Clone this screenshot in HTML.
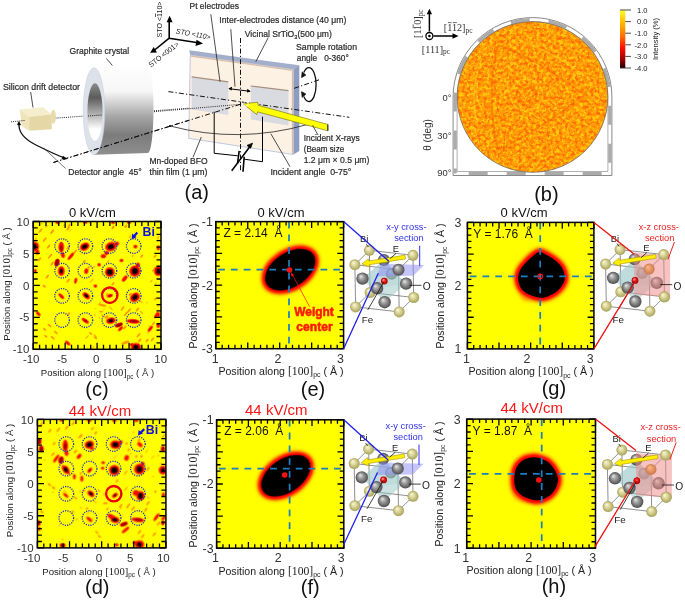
<!DOCTYPE html>
<html><head><meta charset="utf-8"><style>
html,body{margin:0;padding:0;background:#fff;}
svg{display:block;will-change:transform;}
</style></head><body>
<svg width="685" height="600" viewBox="0 0 685 600" font-family='"Liberation Sans", sans-serif'>
<rect width="685" height="600" fill="#fff"/>

<defs>
 <linearGradient id="cylg" x1="0" y1="0" x2="0" y2="1">
  <stop offset="0" stop-color="#ffffff"/><stop offset="0.3" stop-color="#f6f6f6"/>
  <stop offset="0.58" stop-color="#a6a6a6"/><stop offset="0.78" stop-color="#7c7c7c"/>
  <stop offset="1" stop-color="#8e8e8e"/>
 </linearGradient>
 <linearGradient id="holeg" x1="0" y1="0" x2="0" y2="1">
  <stop offset="0" stop-color="#8a8a8a"/><stop offset="0.25" stop-color="#5c5c5c"/>
  <stop offset="0.55" stop-color="#b5b5b5"/><stop offset="0.8" stop-color="#ffffff"/><stop offset="1" stop-color="#ffffff"/>
 </linearGradient>
 <linearGradient id="cbar" x1="0" y1="0" x2="0" y2="1">
  <stop offset="0" stop-color="#ffff30"/><stop offset="0.2" stop-color="#ffc000"/>
  <stop offset="0.45" stop-color="#ff7000"/><stop offset="0.65" stop-color="#ff1000"/>
  <stop offset="0.85" stop-color="#a00000"/><stop offset="1" stop-color="#200000"/>
 </linearGradient>
 <filter id="tex1" x="0" y="0" width="100%" height="100%" color-interpolation-filters="sRGB">
  <feTurbulence type="fractalNoise" baseFrequency="0.3" numOctaves="2" seed="3" result="n"/>
  <feColorMatrix in="n" type="matrix" values="0 0 0 0 1  0 0 0 0 0.8  0 0 0 0 0.05  0 0 0 -3.6 2.15" result="c"/>
  <feComposite in="c" in2="SourceGraphic" operator="in"/>
 </filter>
 <filter id="tex2" x="0" y="0" width="100%" height="100%" color-interpolation-filters="sRGB">
  <feTurbulence type="fractalNoise" baseFrequency="0.32" numOctaves="2" seed="11" result="n"/>
  <feColorMatrix in="n" type="matrix" values="0 0 0 0 1  0 0 0 0 0.42  0 0 0 0 0  4.2 0 0 0 -2.0" result="c"/>
  <feComposite in="c" in2="SourceGraphic" operator="in"/>
 </filter>
 <radialGradient id="gbi" cx="0.5" cy="0.5" r="0.5" fx="0.35" fy="0.3">
  <stop offset="0" stop-color="#fbf9dc"/><stop offset="0.45" stop-color="#dcd79a"/><stop offset="1" stop-color="#a9a25c"/></radialGradient>
 <radialGradient id="go" cx="0.5" cy="0.5" r="0.5" fx="0.35" fy="0.3">
  <stop offset="0" stop-color="#e8e8e8"/><stop offset="0.45" stop-color="#9a9a9a"/><stop offset="1" stop-color="#4e4e4e"/></radialGradient>
 <radialGradient id="gau" cx="0.5" cy="0.5" r="0.5" fx="0.35" fy="0.3">
  <stop offset="0" stop-color="#fff0b0"/><stop offset="0.45" stop-color="#e8b040"/><stop offset="1" stop-color="#a06a10"/></radialGradient>
 <radialGradient id="gfe" cx="0.5" cy="0.5" r="0.5" fx="0.35" fy="0.3">
  <stop offset="0" stop-color="#ffb0b0"/><stop offset="0.5" stop-color="#f01818"/><stop offset="1" stop-color="#a00000"/></radialGradient>
 <filter id="hb" x="-5%" y="-5%" width="110%" height="110%"><feGaussianBlur stdDeviation="0.55"/></filter>
 <filter id="bb" x="-20%" y="-20%" width="140%" height="140%"><feGaussianBlur stdDeviation="0.9"/></filter>
 <filter id="blur05"><feGaussianBlur stdDeviation="0.5"/></filter>
 <filter id="blur2" x="-50%" y="-50%" width="200%" height="200%"><feGaussianBlur stdDeviation="2"/></filter>
 <filter id="bo" x="-30%" y="-30%" width="160%" height="160%"><feGaussianBlur stdDeviation="1.6"/></filter>
 <filter id="br" x="-30%" y="-30%" width="160%" height="160%"><feGaussianBlur stdDeviation="0.9"/></filter>
 <filter id="bk" x="-30%" y="-30%" width="160%" height="160%"><feGaussianBlur stdDeviation="0.45"/></filter>
 <filter id="blur1"><feGaussianBlur stdDeviation="1"/></filter>
</defs>

<g id="pa">
<path d="M55.5 118.2 L242 104.2" stroke="#111" stroke-width="0.9" stroke-dasharray="1 1.1" fill="none"/>
<path d="M94 67.7 L148 64.3 A5.5 44.3 0 0 1 148 152.9 L94 154.7 Z" fill="url(#cylg)"/>
<ellipse cx="94" cy="111.2" rx="10.8" ry="43.5" fill="#dde2ea" stroke="#c5cbd6" stroke-width="0.5"/>
<ellipse cx="95" cy="112" rx="7.6" ry="28.7" fill="url(#holeg)"/>
<path d="M88 116 L102 115" stroke="#111" stroke-width="0.9" stroke-dasharray="1 1.1"/>
<path d="M53.3 162.5 L242 103.8" stroke="#111" stroke-width="1" stroke-dasharray="5 2.2 1.2 2.2" fill="none"/>
<polygon points="19.7,109.5 43.1,107.3 51.8,114.6 29.2,116.8" fill="#f6edcc"/>
<polygon points="19.7,109.5 29.2,116.8 29.2,130.7 21.9,126.3" fill="#f0e4ba"/>
<polygon points="29.2,116.8 51.8,114.6 51.8,129.2 29.2,130.7" fill="#e6d8a6"/>
<ellipse cx="53.3" cy="116.8" rx="2.6" ry="7" fill="#e9dbaa"/>
<path d="M11 121.9 L24.8 120.4" stroke="#111" stroke-width="0.9" stroke-dasharray="1 1.1" fill="none"/>
<polygon points="189.2,50.3 299.3,65.3 293.3,69.5 190.3,55" fill="#a3aecb"/>
<polygon points="293.3,69.5 299.3,65.3 299.3,151 293.3,154.5" fill="#8e9dbf"/>
<polygon points="190.3,55 293.3,69.5 293.3,154.5 188.7,138.3" fill="#fdf1e4" stroke="#aebbd8" stroke-width="0.8"/>
<path d="M190.6 56 L292.5 70.3 L292.5 154" stroke="#d8bea8" stroke-width="1.3" fill="none"/>
<polygon points="191.7,76.7 228.3,81.7 228.3,115 191.7,109.5" fill="#d9dbe0"/>
<path d="M191.7 76.9 L228.3 81.9" stroke="#a89080" stroke-width="1.2"/>
<polygon points="250.8,85.8 288.5,90.5 288.5,125.5 250.8,119.5" fill="#d9dbe0"/>
<path d="M250.8 86 L288.5 90.7" stroke="#a89080" stroke-width="1.2"/>
<path d="M168.4 91.6 L349.3 117.3" stroke="#111" stroke-width="1" stroke-dasharray="5 2.2 1.2 2.2" fill="none"/>
<path d="M240.5 38 L240.5 172" stroke="#111" stroke-width="1" stroke-dasharray="5 2.2 1.2 2.2" fill="none"/>
<path d="M154 111.7 L242 104.2" stroke="#111" stroke-width="0.9" stroke-dasharray="1 1.1" fill="none"/>
<path d="M53.3 162.5 L242 103.8" stroke="#111" stroke-width="1" stroke-dasharray="5 2.2 1.2 2.2" fill="none"/>
<path d="M229 88.7 L250 91.3" stroke="#000" stroke-width="1"/>
<path d="M228.3 88.6 l3.8 -1.9 l-0.5 3.8 z M250.7 91.4 l-3.3 -2.7 l-0.5 3.8 z" fill="#000"/>
<path d="M214.2 111.7 V153.3 L237.8 155.8 M244.2 159.2 L262.5 161.7 V116.7" stroke="#000" stroke-width="1" fill="none"/>
<path d="M239.2 150.8 L237.5 163.5 M244.2 156.7 L243 171.7" stroke="#000" stroke-width="1.6"/>
<path d="M231.7 170.8 L250 146.5" stroke="#000" stroke-width="1.5"/>
<path d="M252.5 143.2 l-5.5 2.2 l3.6 2.8 z" fill="#000" stroke="#000" stroke-width="0.8"/>
<path d="M170 126 Q239 144 307.9 124.4" stroke="#222" stroke-width="0.8" fill="none"/>
<circle cx="170" cy="126" r="1.1" fill="#000"/><circle cx="307.9" cy="124.4" r="1.1" fill="#000"/>
<path d="M19 123.4 C18 133 26 140 36 145 C46 150 56 155 65.7 158.4" stroke="#111" stroke-width="1.3" fill="none"/>
<path d="M19 121.5 l-1.6 3.2 l3.2 0.3 z M66.5 158.8 l-3.5 -2.6 l-1 2.8 z" fill="#000" stroke="#000" stroke-width="0.6"/>
<path d="M43.8 148.2 L65.7 168.6" stroke="#222" stroke-width="0.6" fill="none"/>
<polygon points="243,103.8 257.6,102.3 258.2,105.3 327.8,124.4 327.8,130.8 257.5,111.8 256.9,114.6" fill="#ffff00" stroke="#6b6b00" stroke-width="0.6"/>
<path d="M327.8 124.4 V130.8" stroke="#333" stroke-width="1.2"/>
<circle cx="246" cy="104" r="2.3" fill="none" stroke="#fff" stroke-width="0.8"/>
<path d="M303.8 72.6 A7.2 17 0 1 1 303.8 96.6" stroke="#111" stroke-width="1.3" fill="none"/>
<path d="M301.6 77.5 l0.6 -5.6 l3.6 3.2 z M301.6 91.7 l0.6 5.6 l3.6 -3.2 z" fill="#111" stroke="#111" stroke-width="0.8"/>
<path d="M294.2 88.3 L320.8 79.2" stroke="#111" stroke-width="1" stroke-dasharray="5 2.2 1.2 2.2" fill="none"/>
<path d="M169.2 38.2 V20 M169.2 38.2 L198 42.8 M169.2 38.2 L154 50.5" stroke="#000" stroke-width="1.6" fill="none"/>
<path d="M169.6 15.8 l-3 6.5 h6 z M203 43.5 l-6.5 -3.8 l-1 6.2 z M150.2 52.8 l6.8 -0.3 l-3.4 -5.6 z" fill="#000"/>
<text x="0" y="0" font-size="7.3" text-anchor="start" fill="#222" font-weight="normal" font-family='"Liberation Sans", sans-serif' transform="translate(162 37.5) rotate(-90)" textLength="36" lengthAdjust="spacingAndGlyphs">STO &lt;<tspan text-decoration="overline">1</tspan>10&gt;</text>
<text x="0" y="0" font-size="7.3" text-anchor="start" fill="#222" font-weight="normal" font-family='"Liberation Sans", sans-serif' transform="translate(175.6 33.5) rotate(10)" font-style="italic" textLength="35" lengthAdjust="spacingAndGlyphs">STO &lt;110&gt;</text>
<text x="0" y="0" font-size="7.3" text-anchor="start" fill="#222" font-weight="normal" font-family='"Liberation Sans", sans-serif' transform="translate(151 67.5) rotate(-38)" textLength="36" lengthAdjust="spacingAndGlyphs">STO &lt;001&gt;</text>
<path d="M210.8 14.2 L220 81.7 M230.8 29.2 L235 86.7 M268.3 37.5 L255.8 61.7 M106.3 58.4 L112.4 65.5 M30.7 92 L33 107.5 M193 157.3 L201.3 137 M270.8 133.7 L290 166.7 M312.6 125.3 L318 135" stroke="#222" stroke-width="0.8" fill="none"/>
<text x="189.5" y="9.2" font-size="9.2" text-anchor="start" fill="#2a2a2a" font-weight="normal" font-family='"Liberation Sans", sans-serif' textLength="49.5" lengthAdjust="spacingAndGlyphs" stroke="#2a2a2a" stroke-width="0.22">Pt electrodes</text>
<text x="219.3" y="23.2" font-size="9.2" text-anchor="start" fill="#2a2a2a" font-weight="normal" font-family='"Liberation Sans", sans-serif' textLength="127" lengthAdjust="spacingAndGlyphs" stroke="#2a2a2a" stroke-width="0.22">Inter-electrodes distance (40 μm)</text>
<text x="296" y="50.4" font-size="9.2" text-anchor="start" fill="#2a2a2a" font-weight="normal" font-family='"Liberation Sans", sans-serif' textLength="61" lengthAdjust="spacingAndGlyphs" stroke="#2a2a2a" stroke-width="0.22">Sample rotation</text>
<text x="296.8" y="61.4" font-size="9.2" text-anchor="start" fill="#2a2a2a" font-weight="normal" font-family='"Liberation Sans", sans-serif' textLength="52" lengthAdjust="spacingAndGlyphs" stroke="#2a2a2a" stroke-width="0.22">angle&#160;&#160; 0-360°</text>
<text x="69.5" y="53.9" font-size="9.2" text-anchor="start" fill="#2a2a2a" font-weight="normal" font-family='"Liberation Sans", sans-serif' textLength="59.7" lengthAdjust="spacingAndGlyphs" stroke="#2a2a2a" stroke-width="0.22">Graphite crystal</text>
<text x="3" y="90.3" font-size="9.2" text-anchor="start" fill="#2a2a2a" font-weight="normal" font-family='"Liberation Sans", sans-serif' textLength="77" lengthAdjust="spacingAndGlyphs" stroke="#2a2a2a" stroke-width="0.22">Silicon drift detector</text>
<text x="68.3" y="175.3" font-size="9.2" text-anchor="start" fill="#2a2a2a" font-weight="normal" font-family='"Liberation Sans", sans-serif' textLength="73.5" lengthAdjust="spacingAndGlyphs" stroke="#2a2a2a" stroke-width="0.22">Detector angle&#160; 45°</text>
<text x="149.5" y="164" font-size="9.2" text-anchor="start" fill="#2a2a2a" font-weight="normal" font-family='"Liberation Sans", sans-serif' textLength="58" lengthAdjust="spacingAndGlyphs" stroke="#2a2a2a" stroke-width="0.22">Mn-doped BFO</text>
<text x="149.5" y="175" font-size="9.2" text-anchor="start" fill="#2a2a2a" font-weight="normal" font-family='"Liberation Sans", sans-serif' textLength="58" lengthAdjust="spacingAndGlyphs" stroke="#2a2a2a" stroke-width="0.22">thin film (1 μm)</text>
<text x="303.7" y="140.6" font-size="9.2" text-anchor="start" fill="#2a2a2a" font-weight="normal" font-family='"Liberation Sans", sans-serif' textLength="56" lengthAdjust="spacingAndGlyphs" stroke="#2a2a2a" stroke-width="0.22">Incident X-rays</text>
<text x="303.7" y="152.2" font-size="9.2" text-anchor="start" fill="#2a2a2a" font-weight="normal" font-family='"Liberation Sans", sans-serif' textLength="40.5" lengthAdjust="spacingAndGlyphs" stroke="#2a2a2a" stroke-width="0.22">(Beam size</text>
<text x="303.7" y="163.4" font-size="9.2" text-anchor="start" fill="#2a2a2a" font-weight="normal" font-family='"Liberation Sans", sans-serif' textLength="65.7" lengthAdjust="spacingAndGlyphs" stroke="#2a2a2a" stroke-width="0.22">1.2 μm × 0.5 μm)</text>
<text x="270.4" y="175.3" font-size="9.2" text-anchor="start" fill="#2a2a2a" font-weight="normal" font-family='"Liberation Sans", sans-serif' textLength="81" lengthAdjust="spacingAndGlyphs" stroke="#2a2a2a" stroke-width="0.22">Incident angle&#160; 0-75°</text>
<text x="244.8" y="36.6" font-size="9.2" fill="#2a2a2a" stroke="#2a2a2a" stroke-width="0.22" textLength="87" lengthAdjust="spacingAndGlyphs">Vicinal SrTiO<tspan font-size="6" dy="2">3</tspan><tspan dy="-2">(500 μm)</tspan></text>
<text x="196.8" y="199" font-size="20" text-anchor="middle" fill="#111" font-weight="normal" font-family='"Liberation Sans", sans-serif' >(a)</text>
</g>
<path d="M453.1 175.5 V97 A79.4 79.4 0 0 1 611.9 97 V175.5 Z" fill="#fff" stroke="#6a6a6a" stroke-width="0.8"/>
<path d="M455.1 173.5 V97 A77.4 77.4 0 0 1 609.9 97 V173.5 Z" fill="none" stroke="#ababab" stroke-width="3.2" stroke-dasharray="19 19" stroke-dashoffset="14"/>
<path d="M457.1 171.5 V97 A75.4 75.4 0 0 1 607.9 97 V171.5 Z" fill="none" stroke="#7a7a7a" stroke-width="0.6"/>
<circle cx="532.5" cy="97" r="75.3" fill="#ff9808"/>
<circle cx="532.5" cy="97" r="75.3" fill="#ffd000" filter="url(#tex1)"/>
<circle cx="532.5" cy="97" r="75.3" fill="#ff5a00" filter="url(#tex2)"/>
<g fill="none" stroke="#f25000" stroke-width="2" opacity="0.35"><path d="M584 95 Q540 60 498 45 M584 95 Q540 130 498 150 M498 45 Q485 97 498 150"/><circle cx="526.5" cy="95" r="10"/></g>
<g fill="none" stroke="#ffd820" stroke-width="1.5" opacity="0.45"><circle cx="526.5" cy="95" r="16"/><path d="M478 70 Q470 97 478 125 M520 40 Q560 55 590 80"/></g>
<circle cx="532.5" cy="97" r="75.3" fill="none" stroke="#666" stroke-width="0.7"/>
<text x="451.5" y="100.8" font-size="9.4" text-anchor="end" fill="#333" font-weight="normal" font-family='"Liberation Sans", sans-serif' >0°</text>
<text x="451.5" y="138.6" font-size="9.4" text-anchor="end" fill="#333" font-weight="normal" font-family='"Liberation Sans", sans-serif' >30°</text>
<text x="451.5" y="175.8" font-size="9.4" text-anchor="end" fill="#333" font-weight="normal" font-family='"Liberation Sans", sans-serif' >90°</text>
<text x="0" y="0" font-size="10" text-anchor="middle" fill="#333" font-weight="normal" font-family='"Liberation Sans", sans-serif' transform="translate(431 135) rotate(-90)">θ (deg)</text>
<path d="M429.4 31.5 V13 M433.5 36 H453" stroke="#000" stroke-width="1.5"/>
<path d="M429.4 8.7 l-2.7 5.6 h5.4 z M458.5 36 l-6 -2.8 v5.6 z" fill="#000"/>
<circle cx="429.4" cy="36" r="3.5" fill="#fff" stroke="#000" stroke-width="1.3"/><circle cx="429.4" cy="36" r="1.3" fill="#000"/>
<text x="0" y="0" font-size="10.2" text-anchor="start" fill="#333" font-weight="normal" font-family='"Liberation Serif", serif' transform="translate(421 38) rotate(-90)">[110]<tspan font-size="7.2" dy="1.8">pc</tspan></text>
<path d="M413.2 28.3 V24.3" stroke="#444" stroke-width="0.8"/>
<text x="443.8" y="30.8" font-size="10.2" text-anchor="start" fill="#333" font-weight="normal" font-family='"Liberation Serif", serif' >[112]<tspan font-size="7.4" dy="1.8">pc</tspan></text>
<path d="M447.9 22.6 H451.5 M453 22.6 H456.8" stroke="#444" stroke-width="0.8"/>
<text x="421.8" y="52.6" font-size="10.2" text-anchor="start" fill="#333" font-weight="normal" font-family='"Liberation Serif", serif' >[111]<tspan font-size="7.4" dy="1.8">pc</tspan></text>
<rect x="620" y="10" width="5.3" height="58" fill="url(#cbar)"/>
<path d="M620 10 H631 M625.3 21.6 H631 M625.3 33.2 H631 M625.3 44.8 H631 M625.3 56.4 H631 M620 68 H631" stroke="#333" stroke-width="0.9"/>
<text x="647.5" y="12.8" font-size="7.6" text-anchor="end" fill="#222" font-weight="normal" font-family='"Liberation Sans", sans-serif' >1.0</text>
<text x="647.5" y="24.4" font-size="7.6" text-anchor="end" fill="#222" font-weight="normal" font-family='"Liberation Sans", sans-serif' >0.0</text>
<text x="647.5" y="36" font-size="7.6" text-anchor="end" fill="#222" font-weight="normal" font-family='"Liberation Sans", sans-serif' >-1.0</text>
<text x="647.5" y="47.6" font-size="7.6" text-anchor="end" fill="#222" font-weight="normal" font-family='"Liberation Sans", sans-serif' >-2.0</text>
<text x="647.5" y="59.2" font-size="7.6" text-anchor="end" fill="#222" font-weight="normal" font-family='"Liberation Sans", sans-serif' >-3.0</text>
<text x="647.5" y="70.8" font-size="7.6" text-anchor="end" fill="#222" font-weight="normal" font-family='"Liberation Sans", sans-serif' >-4.0</text>
<text x="0" y="0" font-size="7.6" text-anchor="middle" fill="#222" font-weight="normal" font-family='"Liberation Sans", sans-serif' transform="translate(657.5 39) rotate(-90)">Intensity (%)</text>
<text x="546.4" y="200.6" font-size="20" text-anchor="middle" fill="#111" font-weight="normal" font-family='"Liberation Sans", sans-serif' >(b)</text>
<clipPath id="clc"><rect x="33.2" y="221.5" width="127.8" height="127.8"/></clipPath><g clip-path="url(#clc)"><rect x="33.2" y="221.5" width="127.8" height="127.8" fill="#ffff00"/><g filter="url(#hb)" transform="translate(33.2 221.5)"><ellipse cx="118.11" cy="59.51" rx="1.9" ry="0.72" transform="rotate(-50 118.11 59.51)" fill="#ffb400"/><ellipse cx="78.46" cy="23.79" rx="2.61" ry="0.69" transform="rotate(-55 78.46 23.79)" fill="#ffa800"/><ellipse cx="113.79" cy="81.08" rx="1.28" ry="0.72" transform="rotate(-50 113.79 81.08)" fill="#ffcc00"/><ellipse cx="78.67" cy="20.13" rx="2.93" ry="0.76" transform="rotate(-45 78.67 20.13)" fill="#ffc000"/><ellipse cx="30.92" cy="3.84" rx="1.12" ry="0.58" transform="rotate(-55 30.92 3.84)" fill="#ffa800"/><ellipse cx="66.34" cy="81.83" rx="1.88" ry="0.84" transform="rotate(-45 66.34 81.83)" fill="#ffc000"/><ellipse cx="35.55" cy="127.5" rx="2.32" ry="0.68" transform="rotate(35 35.55 127.5)" fill="#ffa800"/><ellipse cx="36.94" cy="8.97" rx="1.63" ry="0.59" transform="rotate(-45 36.94 8.97)" fill="#ffcc00"/><ellipse cx="8.54" cy="2.16" rx="1.22" ry="0.62" transform="rotate(-45 8.54 2.16)" fill="#ffb400"/><ellipse cx="60.06" cy="125.29" rx="1.42" ry="0.86" transform="rotate(-45 60.06 125.29)" fill="#ffcc00"/><ellipse cx="99.49" cy="34.48" rx="1.15" ry="0.75" transform="rotate(-45 99.49 34.48)" fill="#ffa800"/><ellipse cx="96.88" cy="15.08" rx="1.67" ry="0.89" transform="rotate(-50 96.88 15.08)" fill="#ffc000"/><ellipse cx="62.22" cy="87.17" rx="1.02" ry="0.69" transform="rotate(40 62.22 87.17)" fill="#ffcc00"/><ellipse cx="98.34" cy="53.58" rx="2.02" ry="0.89" transform="rotate(-55 98.34 53.58)" fill="#ffc000"/><ellipse cx="0.06" cy="110.46" rx="1.79" ry="0.9" transform="rotate(-50 0.06 110.46)" fill="#ffa800"/><ellipse cx="23.94" cy="127.27" rx="3" ry="0.51" transform="rotate(-50 23.94 127.27)" fill="#ffc000"/><ellipse cx="56.43" cy="1.22" rx="1.08" ry="0.56" transform="rotate(-40 56.43 1.22)" fill="#ffa800"/><ellipse cx="26.68" cy="81.36" rx="1.77" ry="0.53" transform="rotate(35 26.68 81.36)" fill="#ffa800"/><ellipse cx="122.58" cy="61.82" rx="1.74" ry="0.68" transform="rotate(-50 122.58 61.82)" fill="#ffcc00"/><ellipse cx="116.1" cy="104.52" rx="1.37" ry="0.56" transform="rotate(40 116.1 104.52)" fill="#ffb400"/><ellipse cx="70.79" cy="87.8" rx="1.32" ry="0.75" transform="rotate(-45 70.79 87.8)" fill="#ffcc00"/><ellipse cx="13.27" cy="4.95" rx="2.21" ry="0.67" transform="rotate(-40 13.27 4.95)" fill="#ffb400"/><ellipse cx="53.78" cy="115.64" rx="2.48" ry="0.66" transform="rotate(-45 53.78 115.64)" fill="#ffa800"/><ellipse cx="124.88" cy="16.15" rx="2.04" ry="0.87" transform="rotate(-55 124.88 16.15)" fill="#ffc000"/><ellipse cx="26.07" cy="2.12" rx="1.56" ry="0.87" transform="rotate(-40 26.07 2.12)" fill="#ffcc00"/><ellipse cx="22.53" cy="47.13" rx="1.89" ry="0.52" transform="rotate(-50 22.53 47.13)" fill="#ffc000"/><ellipse cx="125.31" cy="83.96" rx="1.72" ry="0.86" transform="rotate(-50 125.31 83.96)" fill="#ffb400"/><ellipse cx="60.68" cy="45.68" rx="2.18" ry="0.87" transform="rotate(-40 60.68 45.68)" fill="#ffc000"/><ellipse cx="61.63" cy="93.36" rx="1.04" ry="0.75" transform="rotate(45 61.63 93.36)" fill="#ffb400"/><ellipse cx="69.79" cy="94.19" rx="3" ry="0.53" transform="rotate(40 69.79 94.19)" fill="#ffa800"/><ellipse cx="115.13" cy="111.33" rx="1.7" ry="0.77" transform="rotate(-45 115.13 111.33)" fill="#ffc000"/><ellipse cx="79.87" cy="48.86" rx="2.73" ry="0.73" transform="rotate(-45 79.87 48.86)" fill="#ffc000"/><ellipse cx="126.95" cy="112.44" rx="1.16" ry="0.76" transform="rotate(45 126.95 112.44)" fill="#ffcc00"/><ellipse cx="58.5" cy="59.12" rx="2.87" ry="0.78" transform="rotate(-45 58.5 59.12)" fill="#ffc000"/><ellipse cx="2.85" cy="122.36" rx="1.62" ry="0.54" transform="rotate(35 2.85 122.36)" fill="#ffcc00"/><ellipse cx="62.15" cy="114.56" rx="2.56" ry="0.76" transform="rotate(45 62.15 114.56)" fill="#ffa800"/><ellipse cx="66.25" cy="96.33" rx="1.29" ry="0.74" transform="rotate(45 66.25 96.33)" fill="#ffcc00"/><ellipse cx="51.73" cy="32.03" rx="2" ry="0.6" transform="rotate(-55 51.73 32.03)" fill="#ffb400"/><ellipse cx="74.52" cy="40.45" rx="2.76" ry="0.65" transform="rotate(-50 74.52 40.45)" fill="#ffb400"/><ellipse cx="108.47" cy="90.89" rx="1.99" ry="0.83" transform="rotate(45 108.47 90.89)" fill="#ffb400"/><ellipse cx="118.31" cy="106.19" rx="1.23" ry="0.69" transform="rotate(-45 118.31 106.19)" fill="#ffcc00"/><ellipse cx="107.6" cy="79.85" rx="2.34" ry="0.79" transform="rotate(45 107.6 79.85)" fill="#ffc000"/><ellipse cx="77.65" cy="86.68" rx="2.66" ry="0.61" transform="rotate(45 77.65 86.68)" fill="#ffa800"/><ellipse cx="2.44" cy="17.37" rx="1.62" ry="0.82" transform="rotate(-55 2.44 17.37)" fill="#ffb400"/><ellipse cx="30.34" cy="18" rx="1.05" ry="0.83" transform="rotate(-45 30.34 18)" fill="#ffc000"/><ellipse cx="28.1" cy="25.6" rx="3.2" ry="5.6" fill="#ff8000"/><ellipse cx="28.1" cy="26.5" rx="2.1" ry="3.4" fill="#ff6000"/><ellipse cx="29.7" cy="33.6" rx="2.4" ry="3.2" transform="rotate(-20 29.7 33.6)" fill="#ff8000"/><ellipse cx="51.5" cy="25.1" rx="5.4" ry="4.1" transform="rotate(-30 51.5 25.1)" fill="#ff7000"/><ellipse cx="28.1" cy="49.6" rx="3.8" ry="5.1" fill="#ff7000"/><ellipse cx="23.8" cy="41.1" rx="2.7" ry="4.1" transform="rotate(15 23.8 41.1)" fill="#ff6000"/><ellipse cx="53.1" cy="49.6" rx="2.5" ry="3.1" transform="rotate(10 53.1 49.6)" fill="#ff8000"/><ellipse cx="55.5" cy="46" rx="1.5" ry="1" transform="rotate(-50 55.5 46)" fill="#ff9c00"/><ellipse cx="1.4" cy="25.1" rx="4.8" ry="5.3" fill="#ff7000"/><ellipse cx="4" cy="30.4" rx="2.5" ry="3" fill="#ff8000"/><ellipse cx="7.3" cy="9.1" rx="3" ry="1" transform="rotate(-50 7.3 9.1)" fill="#ff9c00"/><ellipse cx="19" cy="10.2" rx="3" ry="1.1" transform="rotate(-50 19 10.2)" fill="#ff9c00"/><ellipse cx="11.5" cy="18.2" rx="3" ry="1" transform="rotate(-50 11.5 18.2)" fill="#ff9c00"/><ellipse cx="15.3" cy="25.1" rx="2.5" ry="1" transform="rotate(-50 15.3 25.1)" fill="#ff9c00"/><ellipse cx="35" cy="7" rx="2.5" ry="1" transform="rotate(-50 35 7)" fill="#ff9c00"/><ellipse cx="36" cy="3.8" rx="2" ry="0.9" transform="rotate(-50 36 3.8)" fill="#ff9c00"/><ellipse cx="37.7" cy="34.7" rx="5" ry="1.9" transform="rotate(-50 37.7 34.7)" fill="#ff8000"/><ellipse cx="41.9" cy="30.4" rx="3" ry="1" transform="rotate(-50 41.9 30.4)" fill="#ff9c00"/><ellipse cx="35" cy="26.2" rx="2.5" ry="1" transform="rotate(-50 35 26.2)" fill="#ff9c00"/><ellipse cx="16.9" cy="34.7" rx="3" ry="1" transform="rotate(-50 16.9 34.7)" fill="#ff9c00"/><ellipse cx="19" cy="42.2" rx="2.5" ry="1" transform="rotate(-50 19 42.2)" fill="#ff9c00"/><ellipse cx="6.2" cy="37.9" rx="2.5" ry="1" transform="rotate(-50 6.2 37.9)" fill="#ff9c00"/><ellipse cx="14.2" cy="55" rx="2.5" ry="1" transform="rotate(-50 14.2 55)" fill="#ff9c00"/><ellipse cx="35" cy="59.2" rx="2.5" ry="1" transform="rotate(-50 35 59.2)" fill="#ff9c00"/><ellipse cx="42.5" cy="59.2" rx="1.9" ry="3.3" transform="rotate(10 42.5 59.2)" fill="#ff8000"/><ellipse cx="51" cy="40" rx="2" ry="1" transform="rotate(-50 51 40)" fill="#ff9c00"/><ellipse cx="2" cy="49.6" rx="2" ry="2.3" fill="#ff8000"/><ellipse cx="24.3" cy="1.1" rx="2.5" ry="1.8" fill="#ff8000"/><ellipse cx="52.1" cy="1.1" rx="2.5" ry="1.8" fill="#ff8000"/><ellipse cx="77.7" cy="25.1" rx="6.2" ry="4.9" transform="rotate(-20 77.7 25.1)" fill="#ff7000"/><ellipse cx="83.5" cy="22.4" rx="3" ry="2.3" transform="rotate(-30 83.5 22.4)" fill="#ff8000"/><ellipse cx="70.2" cy="34.7" rx="3" ry="2.4" fill="#ff8000"/><ellipse cx="73.4" cy="31.5" rx="3" ry="2.3" transform="rotate(-40 73.4 31.5)" fill="#ff8000"/><ellipse cx="102.2" cy="25.1" rx="2.4" ry="2.2" fill="#ff8000"/><ellipse cx="76.6" cy="50.7" rx="5.2" ry="5.1" fill="#ff7000"/><ellipse cx="101.7" cy="49.6" rx="6" ry="5.9" fill="#ff7000"/><ellipse cx="104.3" cy="44.3" rx="2.6" ry="3.6" transform="rotate(25 104.3 44.3)" fill="#ff8000"/><ellipse cx="91.5" cy="57.1" rx="4" ry="2.3" transform="rotate(-50 91.5 57.1)" fill="#ff8000"/><ellipse cx="79.8" cy="5.9" rx="2" ry="1.2" transform="rotate(-50 79.8 5.9)" fill="#ff9c00"/><ellipse cx="92.6" cy="4.8" rx="2" ry="1.2" transform="rotate(-50 92.6 4.8)" fill="#ff9c00"/><ellipse cx="88.3" cy="39" rx="2.3" ry="2.1" fill="#ff8000"/><ellipse cx="65.9" cy="43.2" rx="2.2" ry="2" fill="#ff8000"/><ellipse cx="79.8" cy="62.4" rx="2" ry="1" transform="rotate(-50 79.8 62.4)" fill="#ff9c00"/><ellipse cx="108.6" cy="34.7" rx="2" ry="1" transform="rotate(-50 108.6 34.7)" fill="#ff9c00"/><ellipse cx="121.9" cy="34.7" rx="2" ry="1" transform="rotate(-50 121.9 34.7)" fill="#ff9c00"/><ellipse cx="120.3" cy="48.6" rx="2" ry="1" transform="rotate(-50 120.3 48.6)" fill="#ff9c00"/><ellipse cx="125.1" cy="49.6" rx="4.8" ry="5.3" fill="#ff7000"/><ellipse cx="125.1" cy="26.2" rx="2.2" ry="2.8" fill="#ff8000"/><ellipse cx="79.8" cy="1.1" rx="2.5" ry="1.8" fill="#ff8000"/><ellipse cx="95.8" cy="1.1" rx="2.5" ry="1.8" fill="#ff8000"/><ellipse cx="28.1" cy="74.7" rx="4" ry="2" transform="rotate(45 28.1 74.7)" fill="#ff8000"/><ellipse cx="53.1" cy="74.2" rx="4.6" ry="3" transform="rotate(40 53.1 74.2)" fill="#ff7000"/><ellipse cx="52.1" cy="99.2" rx="4.5" ry="2.1" transform="rotate(35 52.1 99.2)" fill="#ff8000"/><ellipse cx="52.4" cy="99.4" rx="2.3" ry="1.6" transform="rotate(35 52.4 99.4)" fill="#ff6000"/><ellipse cx="5.1" cy="92.3" rx="3.2" ry="1.8" transform="rotate(45 5.1 92.3)" fill="#ff8000"/><ellipse cx="11" cy="64.6" rx="1.2" ry="2" transform="rotate(-50 11 64.6)" fill="#ff9c00"/><ellipse cx="35.5" cy="92.3" rx="1.8" ry="1.2" transform="rotate(-50 35.5 92.3)" fill="#ff9c00"/><ellipse cx="16.3" cy="104" rx="2.5" ry="1" transform="rotate(40 16.3 104)" fill="#ff9c00"/><ellipse cx="11.5" cy="107.8" rx="2" ry="1" transform="rotate(40 11.5 107.8)" fill="#ff9c00"/><ellipse cx="22.7" cy="111" rx="2.5" ry="1" transform="rotate(40 22.7 111)" fill="#ff9c00"/><ellipse cx="12.6" cy="114.7" rx="2" ry="1" transform="rotate(40 12.6 114.7)" fill="#ff9c00"/><ellipse cx="19.5" cy="116.3" rx="2.5" ry="1" transform="rotate(40 19.5 116.3)" fill="#ff9c00"/><ellipse cx="34.5" cy="121.6" rx="3.5" ry="1.9" transform="rotate(40 34.5 121.6)" fill="#ff8000"/><ellipse cx="62.2" cy="64.6" rx="2.2" ry="2" fill="#ff8000"/><ellipse cx="57.4" cy="112" rx="2" ry="1" transform="rotate(40 57.4 112)" fill="#ff9c00"/><ellipse cx="62.2" cy="116.3" rx="2" ry="1" transform="rotate(40 62.2 116.3)" fill="#ff9c00"/><ellipse cx="76.6" cy="74.2" rx="3.5" ry="2" transform="rotate(-15 76.6 74.2)" fill="#ff8000"/><ellipse cx="77" cy="74.4" rx="2.1" ry="1.5" transform="rotate(-15 77 74.4)" fill="#ff6000"/><ellipse cx="73.9" cy="72.9" rx="1.5" ry="1" transform="rotate(-50 73.9 72.9)" fill="#ff9c00"/><ellipse cx="101.7" cy="75.8" rx="5.7" ry="4.6" transform="rotate(-40 101.7 75.8)" fill="#ff7000"/><ellipse cx="97.4" cy="73.1" rx="2" ry="1.5" transform="rotate(-30 97.4 73.1)" fill="#ff9c00"/><ellipse cx="77.7" cy="99.2" rx="5.2" ry="3.6" transform="rotate(-10 77.7 99.2)" fill="#ff7000"/><ellipse cx="73.4" cy="95.5" rx="2" ry="1.5" transform="rotate(-30 73.4 95.5)" fill="#ff9c00"/><ellipse cx="85.7" cy="103.5" rx="4.3" ry="2.2" transform="rotate(-20 85.7 103.5)" fill="#ff6000"/><ellipse cx="100.1" cy="99.8" rx="7" ry="2.6" transform="rotate(5 100.1 99.8)" fill="#ff8000"/><ellipse cx="100.6" cy="99.8" rx="4.6" ry="1.8" transform="rotate(5 100.6 99.8)" fill="#ff6000"/><ellipse cx="69.1" cy="83.8" rx="4" ry="1.2" transform="rotate(10 69.1 83.8)" fill="#ff9c00"/><ellipse cx="89.4" cy="87" rx="3" ry="1" transform="rotate(-55 89.4 87)" fill="#ff9c00"/><ellipse cx="95.8" cy="89.1" rx="3" ry="1" transform="rotate(-50 95.8 89.1)" fill="#ff9c00"/><ellipse cx="92.6" cy="92.3" rx="3" ry="1" transform="rotate(-50 92.6 92.3)" fill="#ff9c00"/><ellipse cx="104.3" cy="88" rx="2.5" ry="1" transform="rotate(-50 104.3 88)" fill="#ff9c00"/><ellipse cx="87.3" cy="107.2" rx="3.5" ry="1.8" transform="rotate(-45 87.3 107.2)" fill="#ff8000"/><ellipse cx="91.5" cy="106.2" rx="2.5" ry="1" transform="rotate(-50 91.5 106.2)" fill="#ff9c00"/><ellipse cx="117.1" cy="107.2" rx="4" ry="1.9" transform="rotate(-50 117.1 107.2)" fill="#ff8000"/><ellipse cx="123.5" cy="93.4" rx="4" ry="1.9" transform="rotate(-55 123.5 93.4)" fill="#ff8000"/><ellipse cx="122.5" cy="77.4" rx="2" ry="1" transform="rotate(-50 122.5 77.4)" fill="#ff9c00"/><ellipse cx="120.3" cy="101.9" rx="2" ry="1" transform="rotate(-50 120.3 101.9)" fill="#ff9c00"/><ellipse cx="105.4" cy="113.6" rx="3" ry="1" transform="rotate(-50 105.4 113.6)" fill="#ff9c00"/><ellipse cx="106.5" cy="119" rx="2.5" ry="1" transform="rotate(-50 106.5 119)" fill="#ff9c00"/><ellipse cx="119.3" cy="117.9" rx="2.5" ry="1" transform="rotate(-50 119.3 117.9)" fill="#ff9c00"/><ellipse cx="113.9" cy="119" rx="2" ry="1" transform="rotate(-50 113.9 119)" fill="#ff9c00"/><ellipse cx="102.7" cy="125.6" rx="5.6" ry="4.5" fill="#ff7000"/><ellipse cx="99" cy="123.2" rx="3" ry="2" fill="#ff8000"/><ellipse cx="92.1" cy="121.1" rx="4" ry="1.5" transform="rotate(-20 92.1 121.1)" fill="#ff9c00"/><ellipse cx="125.1" cy="93.4" rx="2.2" ry="2.8" fill="#ff8000"/><ellipse cx="125.1" cy="104" rx="2.2" ry="2.8" fill="#ff8000"/><ellipse cx="68" cy="90.2" rx="2" ry="0.9" fill="#ff9c00"/><ellipse cx="28.1" cy="25.6" rx="2.2" ry="4.8" fill="#f01000"/><ellipse cx="28.1" cy="26.5" rx="1.5" ry="2.9" fill="#e00000"/><ellipse cx="29.7" cy="33.6" rx="1.4" ry="2.4" transform="rotate(-20 29.7 33.6)" fill="#f01000"/><ellipse cx="51.5" cy="25.1" rx="4.2" ry="3" transform="rotate(-30 51.5 25.1)" fill="#e80000"/><ellipse cx="28.1" cy="49.6" rx="2.6" ry="4" fill="#e80000"/><ellipse cx="23.8" cy="41.1" rx="2.1" ry="3.6" transform="rotate(15 23.8 41.1)" fill="#e00000"/><ellipse cx="53.1" cy="49.6" rx="1.5" ry="2.3" transform="rotate(10 53.1 49.6)" fill="#f01000"/><ellipse cx="1.4" cy="25.1" rx="3.6" ry="4.2" fill="#e80000"/><ellipse cx="4" cy="30.4" rx="1.5" ry="2.2" fill="#f01000"/><ellipse cx="37.7" cy="34.7" rx="4" ry="1.1" transform="rotate(-50 37.7 34.7)" fill="#f01000"/><ellipse cx="42.5" cy="59.2" rx="0.9" ry="2.5" transform="rotate(10 42.5 59.2)" fill="#f01000"/><ellipse cx="2" cy="49.6" rx="1" ry="1.5" fill="#f01000"/><ellipse cx="24.3" cy="1.1" rx="1.5" ry="1" fill="#f01000"/><ellipse cx="52.1" cy="1.1" rx="1.5" ry="1" fill="#f01000"/><ellipse cx="77.7" cy="25.1" rx="5" ry="3.8" transform="rotate(-20 77.7 25.1)" fill="#e80000"/><ellipse cx="83.5" cy="22.4" rx="2" ry="1.5" transform="rotate(-30 83.5 22.4)" fill="#f01000"/><ellipse cx="70.2" cy="34.7" rx="2" ry="1.6" fill="#f01000"/><ellipse cx="73.4" cy="31.5" rx="2" ry="1.5" transform="rotate(-40 73.4 31.5)" fill="#f01000"/><ellipse cx="102.2" cy="25.1" rx="1.4" ry="1.4" fill="#f01000"/><ellipse cx="76.6" cy="50.7" rx="4" ry="4" fill="#e80000"/><ellipse cx="101.7" cy="49.6" rx="4.8" ry="4.8" fill="#e80000"/><ellipse cx="104.3" cy="44.3" rx="1.6" ry="2.8" transform="rotate(25 104.3 44.3)" fill="#f01000"/><ellipse cx="91.5" cy="57.1" rx="3" ry="1.5" transform="rotate(-50 91.5 57.1)" fill="#f01000"/><ellipse cx="88.3" cy="39" rx="1.3" ry="1.3" fill="#f01000"/><ellipse cx="65.9" cy="43.2" rx="1.2" ry="1.2" fill="#f01000"/><ellipse cx="125.1" cy="49.6" rx="3.6" ry="4.2" fill="#e80000"/><ellipse cx="125.1" cy="26.2" rx="1.2" ry="2" fill="#f01000"/><ellipse cx="79.8" cy="1.1" rx="1.5" ry="1" fill="#f01000"/><ellipse cx="95.8" cy="1.1" rx="1.5" ry="1" fill="#f01000"/><ellipse cx="28.1" cy="74.7" rx="3" ry="1.2" transform="rotate(45 28.1 74.7)" fill="#f01000"/><ellipse cx="53.1" cy="74.2" rx="3.4" ry="1.9" transform="rotate(40 53.1 74.2)" fill="#e80000"/><ellipse cx="52.1" cy="99.2" rx="3.5" ry="1.3" transform="rotate(35 52.1 99.2)" fill="#f01000"/><ellipse cx="52.4" cy="99.4" rx="1.7" ry="1.1" transform="rotate(35 52.4 99.4)" fill="#e00000"/><ellipse cx="5.1" cy="92.3" rx="2.2" ry="1" transform="rotate(45 5.1 92.3)" fill="#f01000"/><ellipse cx="34.5" cy="121.6" rx="2.5" ry="1.1" transform="rotate(40 34.5 121.6)" fill="#f01000"/><ellipse cx="62.2" cy="64.6" rx="1.2" ry="1.2" fill="#f01000"/><ellipse cx="76.6" cy="74.2" rx="2.5" ry="1.2" transform="rotate(-15 76.6 74.2)" fill="#f01000"/><ellipse cx="77" cy="74.4" rx="1.5" ry="1" transform="rotate(-15 77 74.4)" fill="#e00000"/><ellipse cx="101.7" cy="75.8" rx="4.5" ry="3.5" transform="rotate(-40 101.7 75.8)" fill="#e80000"/><ellipse cx="77.7" cy="99.2" rx="4" ry="2.5" transform="rotate(-10 77.7 99.2)" fill="#e80000"/><ellipse cx="85.7" cy="103.5" rx="3.7" ry="1.7" transform="rotate(-20 85.7 103.5)" fill="#e00000"/><ellipse cx="100.1" cy="99.8" rx="6" ry="1.8" transform="rotate(5 100.1 99.8)" fill="#f01000"/><ellipse cx="100.6" cy="99.8" rx="4" ry="1.3" transform="rotate(5 100.6 99.8)" fill="#e00000"/><ellipse cx="87.3" cy="107.2" rx="2.5" ry="1" transform="rotate(-45 87.3 107.2)" fill="#f01000"/><ellipse cx="117.1" cy="107.2" rx="3" ry="1.1" transform="rotate(-50 117.1 107.2)" fill="#f01000"/><ellipse cx="123.5" cy="93.4" rx="3" ry="1.1" transform="rotate(-55 123.5 93.4)" fill="#f01000"/><ellipse cx="102.7" cy="125.6" rx="4.4" ry="3.4" fill="#e80000"/><ellipse cx="99" cy="123.2" rx="2" ry="1.2" fill="#f01000"/><ellipse cx="125.1" cy="93.4" rx="1.2" ry="2" fill="#f01000"/><ellipse cx="125.1" cy="104" rx="1.2" ry="2" fill="#f01000"/><ellipse cx="28.1" cy="26.5" rx="1" ry="2.5" fill="#a00000"/><ellipse cx="51.5" cy="25.1" rx="3.1" ry="2.2" transform="rotate(-30 51.5 25.1)" fill="#800000"/><ellipse cx="28.1" cy="49.6" rx="1.8" ry="2.6" fill="#800000"/><ellipse cx="23.8" cy="41.1" rx="1.6" ry="3.2" transform="rotate(15 23.8 41.1)" fill="#a00000"/><ellipse cx="1.4" cy="25.1" rx="2.1" ry="3.1" fill="#800000"/><ellipse cx="77.7" cy="25.1" rx="3.4" ry="2.6" transform="rotate(-20 77.7 25.1)" fill="#800000"/><ellipse cx="76.6" cy="50.7" rx="3.1" ry="3.1" fill="#800000"/><ellipse cx="101.7" cy="49.6" rx="3.1" ry="3.5" fill="#800000"/><ellipse cx="125.1" cy="49.6" rx="2.1" ry="3.1" fill="#800000"/><ellipse cx="53.1" cy="74.2" rx="2.5" ry="1.6" transform="rotate(40 53.1 74.2)" fill="#800000"/><ellipse cx="52.4" cy="99.4" rx="1.2" ry="0.7" transform="rotate(35 52.4 99.4)" fill="#a00000"/><ellipse cx="77" cy="74.4" rx="1" ry="0.6" transform="rotate(-15 77 74.4)" fill="#a00000"/><ellipse cx="101.7" cy="75.8" rx="3.1" ry="2.5" transform="rotate(-40 101.7 75.8)" fill="#800000"/><ellipse cx="77.7" cy="99.2" rx="2.7" ry="1.9" transform="rotate(-10 77.7 99.2)" fill="#800000"/><ellipse cx="85.7" cy="103.5" rx="3.2" ry="1.3" transform="rotate(-20 85.7 103.5)" fill="#a00000"/><ellipse cx="100.6" cy="99.8" rx="3.5" ry="0.9" transform="rotate(5 100.6 99.8)" fill="#a00000"/><ellipse cx="102.7" cy="125.6" rx="2.9" ry="2.3" fill="#800000"/><ellipse cx="51.5" cy="25.1" rx="2.4" ry="1.5" transform="rotate(-30 51.5 25.1)" fill="#000"/><ellipse cx="28.1" cy="49.6" rx="1.1" ry="1.9" fill="#000"/><ellipse cx="1.4" cy="25.1" rx="1.4" ry="2.4" fill="#000"/><ellipse cx="77.7" cy="25.1" rx="2.7" ry="1.9" transform="rotate(-20 77.7 25.1)" fill="#000"/><ellipse cx="76.6" cy="50.7" rx="2.4" ry="2.4" fill="#000"/><ellipse cx="101.7" cy="49.6" rx="2.4" ry="2.8" fill="#000"/><ellipse cx="125.1" cy="49.6" rx="1.4" ry="2.4" fill="#000"/><ellipse cx="53.1" cy="74.2" rx="1.8" ry="0.9" transform="rotate(40 53.1 74.2)" fill="#000"/><ellipse cx="101.7" cy="75.8" rx="2.4" ry="1.8" transform="rotate(-40 101.7 75.8)" fill="#000"/><ellipse cx="77.7" cy="99.2" rx="2" ry="1.2" transform="rotate(-10 77.7 99.2)" fill="#000"/><ellipse cx="102.7" cy="125.6" rx="2.2" ry="1.6" fill="#000"/></g><circle cx="62.1" cy="246.1" r="7.3" fill="none" stroke="#2035c8" stroke-width="1.3" stroke-dasharray="1.2 1.15"/><circle cx="85.4" cy="246.1" r="7.3" fill="none" stroke="#2035c8" stroke-width="1.3" stroke-dasharray="1.2 1.15"/><circle cx="109.4" cy="246.1" r="7.3" fill="none" stroke="#2035c8" stroke-width="1.3" stroke-dasharray="1.2 1.15"/><circle cx="133.7" cy="246.1" r="7.3" fill="none" stroke="#2035c8" stroke-width="1.3" stroke-dasharray="1.2 1.15"/><circle cx="62.1" cy="270.7" r="7.3" fill="none" stroke="#2035c8" stroke-width="1.3" stroke-dasharray="1.2 1.15"/><circle cx="85.4" cy="270.7" r="7.3" fill="none" stroke="#2035c8" stroke-width="1.3" stroke-dasharray="1.2 1.15"/><circle cx="109.4" cy="270.7" r="7.3" fill="none" stroke="#2035c8" stroke-width="1.3" stroke-dasharray="1.2 1.15"/><circle cx="133.7" cy="270.7" r="7.3" fill="none" stroke="#2035c8" stroke-width="1.3" stroke-dasharray="1.2 1.15"/><circle cx="62.1" cy="295.9" r="7.3" fill="none" stroke="#2035c8" stroke-width="1.3" stroke-dasharray="1.2 1.15"/><circle cx="85.4" cy="295.9" r="7.3" fill="none" stroke="#2035c8" stroke-width="1.3" stroke-dasharray="1.2 1.15"/><circle cx="109.4" cy="295.9" r="7.3" fill="none" stroke="#2035c8" stroke-width="1.3" stroke-dasharray="1.2 1.15"/><circle cx="133.7" cy="295.9" r="7.3" fill="none" stroke="#2035c8" stroke-width="1.3" stroke-dasharray="1.2 1.15"/><circle cx="62.1" cy="320.1" r="7.3" fill="none" stroke="#2035c8" stroke-width="1.3" stroke-dasharray="1.2 1.15"/><circle cx="85.4" cy="320.1" r="7.3" fill="none" stroke="#2035c8" stroke-width="1.3" stroke-dasharray="1.2 1.15"/><circle cx="109.4" cy="320.1" r="7.3" fill="none" stroke="#2035c8" stroke-width="1.3" stroke-dasharray="1.2 1.15"/><circle cx="133.7" cy="320.1" r="7.3" fill="none" stroke="#2035c8" stroke-width="1.3" stroke-dasharray="1.2 1.15"/><circle cx="109.8" cy="295.1" r="7.7" fill="none" stroke="#f00000" stroke-width="2.3"/></g>
<path d="M33.2 349.3v-6.6M33.2 221.5v6.6M39.59 349.3v-4.5M39.59 221.5v4.5M45.98 349.3v-4.5M45.98 221.5v4.5M52.37 349.3v-4.5M52.37 221.5v4.5M58.76 349.3v-4.5M58.76 221.5v4.5M65.15 349.3v-6.6M65.15 221.5v6.6M71.54 349.3v-4.5M71.54 221.5v4.5M77.93 349.3v-4.5M77.93 221.5v4.5M84.32 349.3v-4.5M84.32 221.5v4.5M90.71 349.3v-4.5M90.71 221.5v4.5M97.1 349.3v-6.6M97.1 221.5v6.6M103.49 349.3v-4.5M103.49 221.5v4.5M109.88 349.3v-4.5M109.88 221.5v4.5M116.27 349.3v-4.5M116.27 221.5v4.5M122.66 349.3v-4.5M122.66 221.5v4.5M129.05 349.3v-6.6M129.05 221.5v6.6M135.44 349.3v-4.5M135.44 221.5v4.5M141.83 349.3v-4.5M141.83 221.5v4.5M148.22 349.3v-4.5M148.22 221.5v4.5M154.61 349.3v-4.5M154.61 221.5v4.5M161 349.3v-6.6M161 221.5v6.6M33.2 349.3h6.6M161 349.3h-6.6M33.2 342.91h4.5M161 342.91h-4.5M33.2 336.52h4.5M161 336.52h-4.5M33.2 330.13h4.5M161 330.13h-4.5M33.2 323.74h4.5M161 323.74h-4.5M33.2 317.35h6.6M161 317.35h-6.6M33.2 310.96h4.5M161 310.96h-4.5M33.2 304.57h4.5M161 304.57h-4.5M33.2 298.18h4.5M161 298.18h-4.5M33.2 291.79h4.5M161 291.79h-4.5M33.2 285.4h6.6M161 285.4h-6.6M33.2 279.01h4.5M161 279.01h-4.5M33.2 272.62h4.5M161 272.62h-4.5M33.2 266.23h4.5M161 266.23h-4.5M33.2 259.84h4.5M161 259.84h-4.5M33.2 253.45h6.6M161 253.45h-6.6M33.2 247.06h4.5M161 247.06h-4.5M33.2 240.67h4.5M161 240.67h-4.5M33.2 234.28h4.5M161 234.28h-4.5M33.2 227.89h4.5M161 227.89h-4.5M33.2 221.5h6.6M161 221.5h-6.6" stroke="#000" stroke-width="1.3" fill="none"/><rect x="33.2" y="221.5" width="127.8" height="127.8" fill="none" stroke="#000" stroke-width="1.5"/>
<text x="31.2" y="363.1" font-size="11.5" text-anchor="middle" fill="#333" font-weight="normal" font-family='"Liberation Sans", sans-serif' >-10</text>
<text x="62" y="363.1" font-size="11.5" text-anchor="middle" fill="#333" font-weight="normal" font-family='"Liberation Sans", sans-serif' >-5</text>
<text x="96.3" y="363.1" font-size="11.5" text-anchor="middle" fill="#333" font-weight="normal" font-family='"Liberation Sans", sans-serif' >0</text>
<text x="128.6" y="363.1" font-size="11.5" text-anchor="middle" fill="#333" font-weight="normal" font-family='"Liberation Sans", sans-serif' >5</text>
<text x="160.7" y="363.1" font-size="11.5" text-anchor="middle" fill="#333" font-weight="normal" font-family='"Liberation Sans", sans-serif' >10</text>
<text x="29.4" y="353.44" font-size="11.5" text-anchor="end" fill="#333" font-weight="normal" font-family='"Liberation Sans", sans-serif' >-10</text>
<text x="29.4" y="321.49" font-size="11.5" text-anchor="end" fill="#333" font-weight="normal" font-family='"Liberation Sans", sans-serif' >-5</text>
<text x="29.4" y="289.54" font-size="11.5" text-anchor="end" fill="#333" font-weight="normal" font-family='"Liberation Sans", sans-serif' >0</text>
<text x="29.4" y="257.59" font-size="11.5" text-anchor="end" fill="#333" font-weight="normal" font-family='"Liberation Sans", sans-serif' >5</text>
<text x="29.4" y="225.64" font-size="11.5" text-anchor="end" fill="#333" font-weight="normal" font-family='"Liberation Sans", sans-serif' >10</text>
<text x="92.45" y="216.9" font-size="13" text-anchor="middle" fill="#111" font-weight="normal" font-family='"Liberation Sans", sans-serif' >0 kV/cm</text>
<text x="142.6" y="236" font-size="12.3" text-anchor="start" fill="#1010e0" font-weight="bold" font-family='"Liberation Sans", sans-serif' >Bi</text>
<path d="M137.3 232.5 L134 236.2" stroke="#1010e0" stroke-width="2.2"/><path d="M131.6 239.2 l0.6 -5.6 l4.4 3.6 z" fill="#1010e0"/>
<text x="97.5" y="376.3" font-size="9.6" text-anchor="middle" fill="#222" font-family='"Liberation Sans", sans-serif'>Position along <tspan font-family='"Liberation Serif", serif' font-size="10.6">[100]</tspan><tspan font-size="6.3" dy="2.2">pc</tspan><tspan dy="-2.2">&#160;(&#160;</tspan>Å&#160;)</text>
<text transform="translate(10.2 284) rotate(-90)" x="0" y="0" font-size="9.6" text-anchor="middle" fill="#222" font-family='"Liberation Sans", sans-serif'>Position along <tspan font-family='"Liberation Serif", serif' font-size="10.6">[010]</tspan><tspan font-size="6.3" dy="2.2">pc</tspan><tspan dy="-2.2">&#160;(&#160;</tspan>Å&#160;)</text>
<text x="96.9" y="396" font-size="20" text-anchor="middle" fill="#111" font-weight="normal" font-family='"Liberation Sans", sans-serif' >(c)</text>
<clipPath id="cld"><rect x="37.4" y="419.4" width="128.5" height="128.5"/></clipPath><g clip-path="url(#cld)"><rect x="37.4" y="419.4" width="128.5" height="128.5" fill="#ffff00"/><g filter="url(#hb)" transform="translate(37.4 419.4)"><ellipse cx="114.68" cy="10.74" rx="2.85" ry="0.88" transform="rotate(-40 114.68 10.74)" fill="#ffcc00"/><ellipse cx="93.29" cy="34.36" rx="1.76" ry="0.64" transform="rotate(-45 93.29 34.36)" fill="#ffb400"/><ellipse cx="13.61" cy="126.09" rx="2.24" ry="0.86" transform="rotate(-45 13.61 126.09)" fill="#ffcc00"/><ellipse cx="55.42" cy="99.04" rx="1.04" ry="0.75" transform="rotate(40 55.42 99.04)" fill="#ffc000"/><ellipse cx="79.8" cy="124.74" rx="2.18" ry="0.76" transform="rotate(45 79.8 124.74)" fill="#ffa800"/><ellipse cx="125.24" cy="73.63" rx="2.94" ry="0.61" transform="rotate(-45 125.24 73.63)" fill="#ffb400"/><ellipse cx="57.5" cy="82.55" rx="2.44" ry="0.74" transform="rotate(40 57.5 82.55)" fill="#ffb400"/><ellipse cx="66.83" cy="74.83" rx="2.07" ry="0.77" transform="rotate(35 66.83 74.83)" fill="#ffc000"/><ellipse cx="120.8" cy="36.05" rx="1.85" ry="0.73" transform="rotate(-40 120.8 36.05)" fill="#ffc000"/><ellipse cx="39.17" cy="99.92" rx="1.74" ry="0.62" transform="rotate(-50 39.17 99.92)" fill="#ffb400"/><ellipse cx="100.72" cy="90.87" rx="1.52" ry="0.54" transform="rotate(-45 100.72 90.87)" fill="#ffb400"/><ellipse cx="95.77" cy="12.89" rx="1.66" ry="0.56" transform="rotate(-55 95.77 12.89)" fill="#ffb400"/><ellipse cx="81.06" cy="50.55" rx="1.9" ry="0.51" transform="rotate(-50 81.06 50.55)" fill="#ffb400"/><ellipse cx="103.44" cy="121.92" rx="2.37" ry="0.89" transform="rotate(-50 103.44 121.92)" fill="#ffcc00"/><ellipse cx="125.21" cy="48.44" rx="2.5" ry="0.64" transform="rotate(-50 125.21 48.44)" fill="#ffc000"/><ellipse cx="25.27" cy="119.96" rx="1.15" ry="0.69" transform="rotate(45 25.27 119.96)" fill="#ffb400"/><ellipse cx="83.46" cy="88.74" rx="1.18" ry="0.72" transform="rotate(-50 83.46 88.74)" fill="#ffb400"/><ellipse cx="115.76" cy="57.14" rx="1.51" ry="0.67" transform="rotate(-40 115.76 57.14)" fill="#ffcc00"/><ellipse cx="88.38" cy="53.02" rx="2.63" ry="0.86" transform="rotate(-50 88.38 53.02)" fill="#ffa800"/><ellipse cx="110.57" cy="78.36" rx="1.85" ry="0.62" transform="rotate(35 110.57 78.36)" fill="#ffa800"/><ellipse cx="42.73" cy="71.88" rx="1.22" ry="0.75" transform="rotate(-45 42.73 71.88)" fill="#ffb400"/><ellipse cx="43.42" cy="88.48" rx="1.33" ry="0.76" transform="rotate(35 43.42 88.48)" fill="#ffb400"/><ellipse cx="102.74" cy="127" rx="2.77" ry="0.88" transform="rotate(45 102.74 127)" fill="#ffc000"/><ellipse cx="122.92" cy="96.27" rx="1.68" ry="0.51" transform="rotate(-45 122.92 96.27)" fill="#ffb400"/><ellipse cx="84.12" cy="95.84" rx="2.59" ry="0.51" transform="rotate(35 84.12 95.84)" fill="#ffcc00"/><ellipse cx="88.54" cy="69.28" rx="2.4" ry="0.69" transform="rotate(-50 88.54 69.28)" fill="#ffa800"/><ellipse cx="29.1" cy="7.99" rx="1.53" ry="0.9" transform="rotate(-55 29.1 7.99)" fill="#ffcc00"/><ellipse cx="77.75" cy="37.47" rx="2.55" ry="0.77" transform="rotate(-40 77.75 37.47)" fill="#ffcc00"/><ellipse cx="123.32" cy="43.85" rx="1.7" ry="0.62" transform="rotate(-55 123.32 43.85)" fill="#ffc000"/><ellipse cx="61.39" cy="71.16" rx="1.84" ry="0.83" transform="rotate(45 61.39 71.16)" fill="#ffa800"/><ellipse cx="114.78" cy="126.96" rx="2.38" ry="0.65" transform="rotate(40 114.78 126.96)" fill="#ffa800"/><ellipse cx="15.54" cy="72.73" rx="1.22" ry="0.69" transform="rotate(-45 15.54 72.73)" fill="#ffc000"/><ellipse cx="109.34" cy="31.82" rx="2.72" ry="0.6" transform="rotate(-55 109.34 31.82)" fill="#ffc000"/><ellipse cx="25.75" cy="72.64" rx="1.81" ry="0.53" transform="rotate(-50 25.75 72.64)" fill="#ffc000"/><ellipse cx="78.49" cy="46.41" rx="1.36" ry="0.7" transform="rotate(-45 78.49 46.41)" fill="#ffb400"/><ellipse cx="95.82" cy="126.68" rx="1.08" ry="0.55" transform="rotate(40 95.82 126.68)" fill="#ffb400"/><ellipse cx="115.22" cy="37.91" rx="2.86" ry="0.62" transform="rotate(-45 115.22 37.91)" fill="#ffc000"/><ellipse cx="42" cy="17.23" rx="2.21" ry="0.74" transform="rotate(-45 42 17.23)" fill="#ffb400"/><ellipse cx="54.81" cy="40.7" rx="2.71" ry="0.58" transform="rotate(-50 54.81 40.7)" fill="#ffcc00"/><ellipse cx="28.2" cy="72.08" rx="2.33" ry="0.71" transform="rotate(45 28.2 72.08)" fill="#ffcc00"/><ellipse cx="126.24" cy="16.6" rx="2.77" ry="0.89" transform="rotate(-55 126.24 16.6)" fill="#ffa800"/><ellipse cx="50.77" cy="93.05" rx="2.66" ry="0.52" transform="rotate(-50 50.77 93.05)" fill="#ffb400"/><ellipse cx="7.52" cy="40.57" rx="1.42" ry="0.66" transform="rotate(-55 7.52 40.57)" fill="#ffcc00"/><ellipse cx="53.25" cy="31.6" rx="2.65" ry="0.74" transform="rotate(-40 53.25 31.6)" fill="#ffc000"/><ellipse cx="22.25" cy="105.59" rx="2.34" ry="0.68" transform="rotate(-50 22.25 105.59)" fill="#ffcc00"/><ellipse cx="27.9" cy="26.3" rx="3.2" ry="6.3" fill="#ff8000"/><ellipse cx="27.9" cy="27" rx="2.1" ry="3.9" fill="#ff6000"/><ellipse cx="29" cy="33.7" rx="2.4" ry="3.2" transform="rotate(-15 29 33.7)" fill="#ff8000"/><ellipse cx="51.9" cy="25.2" rx="5.2" ry="4.3" transform="rotate(-20 51.9 25.2)" fill="#ff7000"/><ellipse cx="54" cy="28.4" rx="3" ry="2.3" transform="rotate(20 54 28.4)" fill="#ff8000"/><ellipse cx="28.4" cy="50.3" rx="6" ry="2.8" transform="rotate(50 28.4 50.3)" fill="#ff8000"/><ellipse cx="28.4" cy="50.3" rx="3.6" ry="4.5" transform="rotate(-30 28.4 50.3)" fill="#ff7000"/><ellipse cx="23.6" cy="40.7" rx="2.9" ry="3.9" transform="rotate(10 23.6 40.7)" fill="#ff6000"/><ellipse cx="52.4" cy="50.8" rx="3.5" ry="2" transform="rotate(-50 52.4 50.8)" fill="#ff8000"/><ellipse cx="52.4" cy="50.8" rx="2.1" ry="1.5" transform="rotate(-50 52.4 50.8)" fill="#ff6000"/><ellipse cx="1.7" cy="22" rx="2.6" ry="3.4" fill="#ff6000"/><ellipse cx="3.9" cy="29.5" rx="2.6" ry="3.4" fill="#ff6000"/><ellipse cx="3.9" cy="4.9" rx="4" ry="1" transform="rotate(-50 3.9 4.9)" fill="#ff9c00"/><ellipse cx="12.4" cy="11.3" rx="2.5" ry="1" transform="rotate(-50 12.4 11.3)" fill="#ff9c00"/><ellipse cx="20.9" cy="10.3" rx="3" ry="1" transform="rotate(-50 20.9 10.3)" fill="#ff9c00"/><ellipse cx="29.5" cy="8.1" rx="3" ry="1" transform="rotate(-50 29.5 8.1)" fill="#ff9c00"/><ellipse cx="35.9" cy="3.9" rx="2.5" ry="1" transform="rotate(-50 35.9 3.9)" fill="#ff9c00"/><ellipse cx="16.7" cy="24.1" rx="2" ry="1" transform="rotate(-50 16.7 24.1)" fill="#ff9c00"/><ellipse cx="15.6" cy="34.8" rx="2.5" ry="1" transform="rotate(-50 15.6 34.8)" fill="#ff9c00"/><ellipse cx="18.8" cy="39.1" rx="5" ry="1.9" transform="rotate(-55 18.8 39.1)" fill="#ff8000"/><ellipse cx="41.7" cy="36.9" rx="3.5" ry="2.2" transform="rotate(-50 41.7 36.9)" fill="#ff8000"/><ellipse cx="38" cy="32.1" rx="2.5" ry="1" transform="rotate(-50 38 32.1)" fill="#ff9c00"/><ellipse cx="43.3" cy="16.7" rx="2.5" ry="1.2" transform="rotate(-50 43.3 16.7)" fill="#ff9c00"/><ellipse cx="55.1" cy="9.2" rx="2" ry="1" transform="rotate(-50 55.1 9.2)" fill="#ff9c00"/><ellipse cx="58.3" cy="13.5" rx="2" ry="1" transform="rotate(-50 58.3 13.5)" fill="#ff9c00"/><ellipse cx="36.9" cy="57.2" rx="1.9" ry="3" fill="#ff8000"/><ellipse cx="44.4" cy="59.3" rx="2" ry="3.3" fill="#ff8000"/><ellipse cx="43.3" cy="54" rx="1.5" ry="1" transform="rotate(-50 43.3 54)" fill="#ff9c00"/><ellipse cx="51.9" cy="1.2" rx="2.5" ry="1.8" fill="#ff8000"/><ellipse cx="24.1" cy="0.7" rx="2.5" ry="1.8" fill="#ff8000"/><ellipse cx="78" cy="25.2" rx="5.7" ry="4.6" fill="#ff7000"/><ellipse cx="82.8" cy="23.1" rx="3" ry="2.3" transform="rotate(-30 82.8 23.1)" fill="#ff8000"/><ellipse cx="102.5" cy="25.2" rx="3.5" ry="2.3" transform="rotate(40 102.5 25.2)" fill="#ff8000"/><ellipse cx="101.5" cy="20.9" rx="1.2" ry="2" transform="rotate(10 101.5 20.9)" fill="#ff9c00"/><ellipse cx="76.9" cy="50.8" rx="5.7" ry="5.6" fill="#ff7000"/><ellipse cx="102" cy="49.7" rx="5.8" ry="5.7" fill="#ff7000"/><ellipse cx="104.7" cy="45.5" rx="2.6" ry="3.6" transform="rotate(25 104.7 45.5)" fill="#ff8000"/><ellipse cx="89.2" cy="38.5" rx="2.8" ry="3.2" transform="rotate(20 89.2 38.5)" fill="#ff8000"/><ellipse cx="65.7" cy="43.3" rx="2.2" ry="1.8" fill="#ff8000"/><ellipse cx="65.2" cy="48.7" rx="2.2" ry="1.8" fill="#ff8000"/><ellipse cx="98.8" cy="36.9" rx="1.5" ry="1.2" transform="rotate(-50 98.8 36.9)" fill="#ff9c00"/><ellipse cx="91.3" cy="30.5" rx="1.5" ry="1.2" transform="rotate(-50 91.3 30.5)" fill="#ff9c00"/><ellipse cx="89.2" cy="24.1" rx="1.5" ry="1.2" transform="rotate(-50 89.2 24.1)" fill="#ff9c00"/><ellipse cx="104.1" cy="36.9" rx="1.5" ry="1.2" transform="rotate(-50 104.1 36.9)" fill="#ff9c00"/><ellipse cx="123.3" cy="49.7" rx="2" ry="1" transform="rotate(-50 123.3 49.7)" fill="#ff9c00"/><ellipse cx="110.5" cy="49.7" rx="2.5" ry="1" transform="rotate(-50 110.5 49.7)" fill="#ff9c00"/><ellipse cx="79.6" cy="61.5" rx="2" ry="1" transform="rotate(-50 79.6 61.5)" fill="#ff9c00"/><ellipse cx="125.5" cy="50.8" rx="4.7" ry="4.7" fill="#ff7000"/><ellipse cx="125.5" cy="29.5" rx="2.3" ry="2.9" fill="#ff6000"/><ellipse cx="76.9" cy="1.2" rx="2.5" ry="1.8" fill="#ff8000"/><ellipse cx="98.8" cy="1.2" rx="2.5" ry="1.8" fill="#ff8000"/><ellipse cx="28.4" cy="75.9" rx="3.5" ry="1.8" transform="rotate(40 28.4 75.9)" fill="#ff8000"/><ellipse cx="53.5" cy="74.3" rx="4.4" ry="3" transform="rotate(40 53.5 74.3)" fill="#ff7000"/><ellipse cx="51.9" cy="99.9" rx="4" ry="2" transform="rotate(40 51.9 99.9)" fill="#ff8000"/><ellipse cx="11.9" cy="65.2" rx="1.2" ry="2" transform="rotate(-50 11.9 65.2)" fill="#ff9c00"/><ellipse cx="16.1" cy="68.4" rx="1.2" ry="2" transform="rotate(-50 16.1 68.4)" fill="#ff9c00"/><ellipse cx="38" cy="78.5" rx="2" ry="1" transform="rotate(40 38 78.5)" fill="#ff9c00"/><ellipse cx="35.3" cy="92.4" rx="1.5" ry="1.2" transform="rotate(-50 35.3 92.4)" fill="#ff9c00"/><ellipse cx="4.4" cy="92.4" rx="2" ry="1" transform="rotate(40 4.4 92.4)" fill="#ff9c00"/><ellipse cx="1.2" cy="103.6" rx="2.3" ry="2.9" fill="#ff6000"/><ellipse cx="1.7" cy="109.5" rx="2" ry="2.3" fill="#ff8000"/><ellipse cx="59.3" cy="112.7" rx="2" ry="1" transform="rotate(40 59.3 112.7)" fill="#ff9c00"/><ellipse cx="62" cy="116.9" rx="2" ry="1" transform="rotate(40 62 116.9)" fill="#ff9c00"/><ellipse cx="25.2" cy="126" rx="3.1" ry="2.4" fill="#ff6000"/><ellipse cx="49.7" cy="89.2" rx="1.5" ry="1" transform="rotate(-50 49.7 89.2)" fill="#ff9c00"/><ellipse cx="46.5" cy="71.6" rx="1.5" ry="1" transform="rotate(-50 46.5 71.6)" fill="#ff9c00"/><ellipse cx="77.5" cy="75.9" rx="3.5" ry="1.9" transform="rotate(-35 77.5 75.9)" fill="#ff8000"/><ellipse cx="77.5" cy="75.9" rx="3.4" ry="2.3" transform="rotate(-35 77.5 75.9)" fill="#ff7000"/><ellipse cx="103.1" cy="76.4" rx="4.7" ry="5.1" fill="#ff7000"/><ellipse cx="98.8" cy="73.7" rx="4" ry="3.3" transform="rotate(20 98.8 73.7)" fill="#ff8000"/><ellipse cx="75" cy="98" rx="6" ry="2.8" transform="rotate(30 75 98)" fill="#ff8000"/><ellipse cx="77.5" cy="100.4" rx="5" ry="3.5" transform="rotate(10 77.5 100.4)" fill="#ff7000"/><ellipse cx="86.5" cy="104.7" rx="4.3" ry="2.2" transform="rotate(-20 86.5 104.7)" fill="#ff6000"/><ellipse cx="100.4" cy="100.4" rx="7" ry="2.6" transform="rotate(8 100.4 100.4)" fill="#ff8000"/><ellipse cx="100.9" cy="100.4" rx="4.6" ry="1.8" transform="rotate(8 100.9 100.4)" fill="#ff6000"/><ellipse cx="90.8" cy="86.5" rx="3" ry="1" transform="rotate(-50 90.8 86.5)" fill="#ff9c00"/><ellipse cx="95.6" cy="89.2" rx="3" ry="1" transform="rotate(-50 95.6 89.2)" fill="#ff9c00"/><ellipse cx="83.3" cy="86.5" rx="2.5" ry="1" transform="rotate(-50 83.3 86.5)" fill="#ff9c00"/><ellipse cx="110.5" cy="83.9" rx="2.5" ry="1" transform="rotate(-50 110.5 83.9)" fill="#ff9c00"/><ellipse cx="108.4" cy="90.3" rx="2.5" ry="1" transform="rotate(-50 108.4 90.3)" fill="#ff9c00"/><ellipse cx="119.1" cy="97.7" rx="5" ry="1.9" transform="rotate(-55 119.1 97.7)" fill="#ff8000"/><ellipse cx="121.2" cy="104.1" rx="2.5" ry="1" transform="rotate(-50 121.2 104.1)" fill="#ff9c00"/><ellipse cx="88.1" cy="110.5" rx="5" ry="1.9" transform="rotate(-40 88.1 110.5)" fill="#ff8000"/><ellipse cx="102" cy="112.7" rx="2.5" ry="1" transform="rotate(-50 102 112.7)" fill="#ff9c00"/><ellipse cx="116.9" cy="114.8" rx="2.5" ry="1" transform="rotate(-50 116.9 114.8)" fill="#ff9c00"/><ellipse cx="105.2" cy="116.9" rx="2.5" ry="1" transform="rotate(-50 105.2 116.9)" fill="#ff9c00"/><ellipse cx="67.9" cy="83.9" rx="2.5" ry="1.1" fill="#ff9c00"/><ellipse cx="70" cy="89.7" rx="1.5" ry="1" transform="rotate(-50 70 89.7)" fill="#ff9c00"/><ellipse cx="126" cy="75.3" rx="2" ry="2.3" fill="#ff8000"/><ellipse cx="126" cy="98.8" rx="3" ry="1.8" transform="rotate(-50 126 98.8)" fill="#ff8000"/><ellipse cx="125.5" cy="103.6" rx="2.1" ry="2.4" fill="#ff6000"/><ellipse cx="102" cy="124.9" rx="5.2" ry="4.3" fill="#ff7000"/><ellipse cx="97.7" cy="123.3" rx="3" ry="2" fill="#ff8000"/><ellipse cx="79.1" cy="125.5" rx="2.5" ry="1.8" fill="#ff8000"/><ellipse cx="118" cy="72.1" rx="1.5" ry="1" transform="rotate(-50 118 72.1)" fill="#ff9c00"/><ellipse cx="27.9" cy="26.3" rx="2.2" ry="5.5" fill="#f01000"/><ellipse cx="27.9" cy="27" rx="1.5" ry="3.4" fill="#e00000"/><ellipse cx="29" cy="33.7" rx="1.4" ry="2.4" transform="rotate(-15 29 33.7)" fill="#f01000"/><ellipse cx="51.9" cy="25.2" rx="4" ry="3.2" transform="rotate(-20 51.9 25.2)" fill="#e80000"/><ellipse cx="54" cy="28.4" rx="2" ry="1.5" transform="rotate(20 54 28.4)" fill="#f01000"/><ellipse cx="28.4" cy="50.3" rx="5" ry="2" transform="rotate(50 28.4 50.3)" fill="#f01000"/><ellipse cx="28.4" cy="50.3" rx="2.4" ry="3.4" transform="rotate(-30 28.4 50.3)" fill="#e80000"/><ellipse cx="23.6" cy="40.7" rx="2.3" ry="3.4" transform="rotate(10 23.6 40.7)" fill="#e00000"/><ellipse cx="52.4" cy="50.8" rx="2.5" ry="1.2" transform="rotate(-50 52.4 50.8)" fill="#f01000"/><ellipse cx="52.4" cy="50.8" rx="1.5" ry="1" transform="rotate(-50 52.4 50.8)" fill="#e00000"/><ellipse cx="1.7" cy="22" rx="2" ry="2.9" fill="#e00000"/><ellipse cx="3.9" cy="29.5" rx="2" ry="2.9" fill="#e00000"/><ellipse cx="18.8" cy="39.1" rx="4" ry="1.1" transform="rotate(-55 18.8 39.1)" fill="#f01000"/><ellipse cx="41.7" cy="36.9" rx="2.5" ry="1.4" transform="rotate(-50 41.7 36.9)" fill="#f01000"/><ellipse cx="36.9" cy="57.2" rx="0.9" ry="2.2" fill="#f01000"/><ellipse cx="44.4" cy="59.3" rx="1" ry="2.5" fill="#f01000"/><ellipse cx="51.9" cy="1.2" rx="1.5" ry="1" fill="#f01000"/><ellipse cx="24.1" cy="0.7" rx="1.5" ry="1" fill="#f01000"/><ellipse cx="78" cy="25.2" rx="4.5" ry="3.5" fill="#e80000"/><ellipse cx="82.8" cy="23.1" rx="2" ry="1.5" transform="rotate(-30 82.8 23.1)" fill="#f01000"/><ellipse cx="102.5" cy="25.2" rx="2.5" ry="1.5" transform="rotate(40 102.5 25.2)" fill="#f01000"/><ellipse cx="76.9" cy="50.8" rx="4.5" ry="4.5" fill="#e80000"/><ellipse cx="102" cy="49.7" rx="4.6" ry="4.6" fill="#e80000"/><ellipse cx="104.7" cy="45.5" rx="1.6" ry="2.8" transform="rotate(25 104.7 45.5)" fill="#f01000"/><ellipse cx="89.2" cy="38.5" rx="1.8" ry="2.4" transform="rotate(20 89.2 38.5)" fill="#f01000"/><ellipse cx="65.7" cy="43.3" rx="1.2" ry="1" fill="#f01000"/><ellipse cx="65.2" cy="48.7" rx="1.2" ry="1" fill="#f01000"/><ellipse cx="125.5" cy="50.8" rx="3.5" ry="3.6" fill="#e80000"/><ellipse cx="125.5" cy="29.5" rx="1.7" ry="2.4" fill="#e00000"/><ellipse cx="76.9" cy="1.2" rx="1.5" ry="1" fill="#f01000"/><ellipse cx="98.8" cy="1.2" rx="1.5" ry="1" fill="#f01000"/><ellipse cx="28.4" cy="75.9" rx="2.5" ry="1" transform="rotate(40 28.4 75.9)" fill="#f01000"/><ellipse cx="53.5" cy="74.3" rx="3.2" ry="1.9" transform="rotate(40 53.5 74.3)" fill="#e80000"/><ellipse cx="51.9" cy="99.9" rx="3" ry="1.2" transform="rotate(40 51.9 99.9)" fill="#f01000"/><ellipse cx="1.2" cy="103.6" rx="1.7" ry="2.4" fill="#e00000"/><ellipse cx="1.7" cy="109.5" rx="1" ry="1.5" fill="#f01000"/><ellipse cx="25.2" cy="126" rx="2.5" ry="1.9" fill="#e00000"/><ellipse cx="77.5" cy="75.9" rx="2.5" ry="1.1" transform="rotate(-35 77.5 75.9)" fill="#f01000"/><ellipse cx="77.5" cy="75.9" rx="2.2" ry="1.2" transform="rotate(-35 77.5 75.9)" fill="#e80000"/><ellipse cx="103.1" cy="76.4" rx="3.5" ry="4" fill="#e80000"/><ellipse cx="98.8" cy="73.7" rx="3" ry="2.5" transform="rotate(20 98.8 73.7)" fill="#f01000"/><ellipse cx="75" cy="98" rx="5" ry="2" transform="rotate(30 75 98)" fill="#f01000"/><ellipse cx="77.5" cy="100.4" rx="3.8" ry="2.4" transform="rotate(10 77.5 100.4)" fill="#e80000"/><ellipse cx="86.5" cy="104.7" rx="3.7" ry="1.7" transform="rotate(-20 86.5 104.7)" fill="#e00000"/><ellipse cx="100.4" cy="100.4" rx="6" ry="1.8" transform="rotate(8 100.4 100.4)" fill="#f01000"/><ellipse cx="100.9" cy="100.4" rx="4" ry="1.3" transform="rotate(8 100.9 100.4)" fill="#e00000"/><ellipse cx="119.1" cy="97.7" rx="4" ry="1.1" transform="rotate(-55 119.1 97.7)" fill="#f01000"/><ellipse cx="88.1" cy="110.5" rx="4" ry="1.1" transform="rotate(-40 88.1 110.5)" fill="#f01000"/><ellipse cx="126" cy="75.3" rx="1" ry="1.5" fill="#f01000"/><ellipse cx="126" cy="98.8" rx="2" ry="1" transform="rotate(-50 126 98.8)" fill="#f01000"/><ellipse cx="125.5" cy="103.6" rx="1.5" ry="1.9" fill="#e00000"/><ellipse cx="102" cy="124.9" rx="4" ry="3.2" fill="#e80000"/><ellipse cx="97.7" cy="123.3" rx="2" ry="1.2" fill="#f01000"/><ellipse cx="79.1" cy="125.5" rx="1.5" ry="1" fill="#f01000"/><ellipse cx="27.9" cy="27" rx="1" ry="3" fill="#a00000"/><ellipse cx="51.9" cy="25.2" rx="3" ry="2.5" transform="rotate(-20 51.9 25.2)" fill="#800000"/><ellipse cx="28.4" cy="50.3" rx="1.9" ry="2.9" transform="rotate(-30 28.4 50.3)" fill="#800000"/><ellipse cx="23.6" cy="40.7" rx="1.8" ry="3" transform="rotate(10 23.6 40.7)" fill="#a00000"/><ellipse cx="52.4" cy="50.8" rx="1" ry="0.6" transform="rotate(-50 52.4 50.8)" fill="#a00000"/><ellipse cx="1.7" cy="22" rx="1.5" ry="2.5" fill="#a00000"/><ellipse cx="3.9" cy="29.5" rx="1.5" ry="2.5" fill="#a00000"/><ellipse cx="78" cy="25.2" rx="3.1" ry="2.7" fill="#800000"/><ellipse cx="76.9" cy="50.8" rx="3.3" ry="3.3" fill="#800000"/><ellipse cx="102" cy="49.7" rx="2.9" ry="3.4" fill="#800000"/><ellipse cx="125.5" cy="50.8" rx="2" ry="2.5" fill="#800000"/><ellipse cx="125.5" cy="29.5" rx="1.2" ry="2" fill="#a00000"/><ellipse cx="53.5" cy="74.3" rx="2.3" ry="1.5" transform="rotate(40 53.5 74.3)" fill="#800000"/><ellipse cx="1.2" cy="103.6" rx="1.2" ry="2" fill="#a00000"/><ellipse cx="25.2" cy="126" rx="2" ry="1.5" fill="#a00000"/><ellipse cx="77.5" cy="75.9" rx="1.5" ry="1.1" transform="rotate(-35 77.5 75.9)" fill="#800000"/><ellipse cx="103.1" cy="76.4" rx="2.5" ry="3.3" fill="#800000"/><ellipse cx="77.5" cy="100.4" rx="2.9" ry="1.8" transform="rotate(10 77.5 100.4)" fill="#800000"/><ellipse cx="86.5" cy="104.7" rx="3.2" ry="1.3" transform="rotate(-20 86.5 104.7)" fill="#a00000"/><ellipse cx="100.9" cy="100.4" rx="3.5" ry="0.9" transform="rotate(8 100.9 100.4)" fill="#a00000"/><ellipse cx="125.5" cy="103.6" rx="1" ry="1.5" fill="#a00000"/><ellipse cx="102" cy="124.9" rx="2.5" ry="2.1" fill="#800000"/><ellipse cx="51.9" cy="25.2" rx="2.3" ry="1.8" transform="rotate(-20 51.9 25.2)" fill="#000"/><ellipse cx="28.4" cy="50.3" rx="1.2" ry="2.2" transform="rotate(-30 28.4 50.3)" fill="#000"/><ellipse cx="78" cy="25.2" rx="2.4" ry="2" fill="#000"/><ellipse cx="76.9" cy="50.8" rx="2.6" ry="2.6" fill="#000"/><ellipse cx="102" cy="49.7" rx="2.2" ry="2.7" fill="#000"/><ellipse cx="125.5" cy="50.8" rx="1.3" ry="1.8" fill="#000"/><ellipse cx="53.5" cy="74.3" rx="1.6" ry="0.8" transform="rotate(40 53.5 74.3)" fill="#000"/><ellipse cx="77.5" cy="75.9" rx="0.8" ry="0.4" transform="rotate(-35 77.5 75.9)" fill="#000"/><ellipse cx="103.1" cy="76.4" rx="1.8" ry="2.6" fill="#000"/><ellipse cx="77.5" cy="100.4" rx="2.2" ry="1.1" transform="rotate(10 77.5 100.4)" fill="#000"/><ellipse cx="102" cy="124.9" rx="1.8" ry="1.4" fill="#000"/></g><circle cx="66.3" cy="444" r="7.3" fill="none" stroke="#2035c8" stroke-width="1.3" stroke-dasharray="1.2 1.15"/><circle cx="89.6" cy="444" r="7.3" fill="none" stroke="#2035c8" stroke-width="1.3" stroke-dasharray="1.2 1.15"/><circle cx="113.6" cy="444" r="7.3" fill="none" stroke="#2035c8" stroke-width="1.3" stroke-dasharray="1.2 1.15"/><circle cx="137.9" cy="444" r="7.3" fill="none" stroke="#2035c8" stroke-width="1.3" stroke-dasharray="1.2 1.15"/><circle cx="66.3" cy="468.6" r="7.3" fill="none" stroke="#2035c8" stroke-width="1.3" stroke-dasharray="1.2 1.15"/><circle cx="89.6" cy="468.6" r="7.3" fill="none" stroke="#2035c8" stroke-width="1.3" stroke-dasharray="1.2 1.15"/><circle cx="113.6" cy="468.6" r="7.3" fill="none" stroke="#2035c8" stroke-width="1.3" stroke-dasharray="1.2 1.15"/><circle cx="137.9" cy="468.6" r="7.3" fill="none" stroke="#2035c8" stroke-width="1.3" stroke-dasharray="1.2 1.15"/><circle cx="66.3" cy="493.8" r="7.3" fill="none" stroke="#2035c8" stroke-width="1.3" stroke-dasharray="1.2 1.15"/><circle cx="89.6" cy="493.8" r="7.3" fill="none" stroke="#2035c8" stroke-width="1.3" stroke-dasharray="1.2 1.15"/><circle cx="113.6" cy="493.8" r="7.3" fill="none" stroke="#2035c8" stroke-width="1.3" stroke-dasharray="1.2 1.15"/><circle cx="137.9" cy="493.8" r="7.3" fill="none" stroke="#2035c8" stroke-width="1.3" stroke-dasharray="1.2 1.15"/><circle cx="66.3" cy="518" r="7.3" fill="none" stroke="#2035c8" stroke-width="1.3" stroke-dasharray="1.2 1.15"/><circle cx="89.6" cy="518" r="7.3" fill="none" stroke="#2035c8" stroke-width="1.3" stroke-dasharray="1.2 1.15"/><circle cx="113.6" cy="518" r="7.3" fill="none" stroke="#2035c8" stroke-width="1.3" stroke-dasharray="1.2 1.15"/><circle cx="137.9" cy="518" r="7.3" fill="none" stroke="#2035c8" stroke-width="1.3" stroke-dasharray="1.2 1.15"/><circle cx="113.8" cy="493.7" r="7.7" fill="none" stroke="#f00000" stroke-width="2.3"/></g>
<path d="M37.4 547.9v-6.6M37.4 419.4v6.6M43.83 547.9v-4.5M43.83 419.4v4.5M50.25 547.9v-4.5M50.25 419.4v4.5M56.67 547.9v-4.5M56.67 419.4v4.5M63.1 547.9v-4.5M63.1 419.4v4.5M69.53 547.9v-6.6M69.53 419.4v6.6M75.95 547.9v-4.5M75.95 419.4v4.5M82.38 547.9v-4.5M82.38 419.4v4.5M88.8 547.9v-4.5M88.8 419.4v4.5M95.22 547.9v-4.5M95.22 419.4v4.5M101.65 547.9v-6.6M101.65 419.4v6.6M108.08 547.9v-4.5M108.08 419.4v4.5M114.5 547.9v-4.5M114.5 419.4v4.5M120.93 547.9v-4.5M120.93 419.4v4.5M127.35 547.9v-4.5M127.35 419.4v4.5M133.78 547.9v-6.6M133.78 419.4v6.6M140.2 547.9v-4.5M140.2 419.4v4.5M146.62 547.9v-4.5M146.62 419.4v4.5M153.05 547.9v-4.5M153.05 419.4v4.5M159.47 547.9v-4.5M159.47 419.4v4.5M165.9 547.9v-6.6M165.9 419.4v6.6M37.4 547.9h6.6M165.9 547.9h-6.6M37.4 541.48h4.5M165.9 541.48h-4.5M37.4 535.05h4.5M165.9 535.05h-4.5M37.4 528.62h4.5M165.9 528.62h-4.5M37.4 522.2h4.5M165.9 522.2h-4.5M37.4 515.77h6.6M165.9 515.77h-6.6M37.4 509.35h4.5M165.9 509.35h-4.5M37.4 502.92h4.5M165.9 502.92h-4.5M37.4 496.5h4.5M165.9 496.5h-4.5M37.4 490.07h4.5M165.9 490.07h-4.5M37.4 483.65h6.6M165.9 483.65h-6.6M37.4 477.22h4.5M165.9 477.22h-4.5M37.4 470.8h4.5M165.9 470.8h-4.5M37.4 464.38h4.5M165.9 464.38h-4.5M37.4 457.95h4.5M165.9 457.95h-4.5M37.4 451.52h6.6M165.9 451.52h-6.6M37.4 445.1h4.5M165.9 445.1h-4.5M37.4 438.67h4.5M165.9 438.67h-4.5M37.4 432.25h4.5M165.9 432.25h-4.5M37.4 425.82h4.5M165.9 425.82h-4.5M37.4 419.4h6.6M165.9 419.4h-6.6" stroke="#000" stroke-width="1.3" fill="none"/><rect x="37.4" y="419.4" width="128.5" height="128.5" fill="none" stroke="#000" stroke-width="1.5"/>
<text x="32" y="561.7" font-size="11.5" text-anchor="middle" fill="#333" font-weight="normal" font-family='"Liberation Sans", sans-serif' >-10</text>
<text x="63.2" y="561.7" font-size="11.5" text-anchor="middle" fill="#333" font-weight="normal" font-family='"Liberation Sans", sans-serif' >-5</text>
<text x="99" y="561.7" font-size="11.5" text-anchor="middle" fill="#333" font-weight="normal" font-family='"Liberation Sans", sans-serif' >0</text>
<text x="130.2" y="561.7" font-size="11.5" text-anchor="middle" fill="#333" font-weight="normal" font-family='"Liberation Sans", sans-serif' >5</text>
<text x="163.3" y="561.7" font-size="11.5" text-anchor="middle" fill="#333" font-weight="normal" font-family='"Liberation Sans", sans-serif' >10</text>
<text x="33.6" y="552.04" font-size="11.5" text-anchor="end" fill="#333" font-weight="normal" font-family='"Liberation Sans", sans-serif' >-10</text>
<text x="33.6" y="519.91" font-size="11.5" text-anchor="end" fill="#333" font-weight="normal" font-family='"Liberation Sans", sans-serif' >-5</text>
<text x="33.6" y="487.79" font-size="11.5" text-anchor="end" fill="#333" font-weight="normal" font-family='"Liberation Sans", sans-serif' >0</text>
<text x="33.6" y="455.66" font-size="11.5" text-anchor="end" fill="#333" font-weight="normal" font-family='"Liberation Sans", sans-serif' >5</text>
<text x="33.6" y="423.54" font-size="11.5" text-anchor="end" fill="#333" font-weight="normal" font-family='"Liberation Sans", sans-serif' >10</text>
<text x="100" y="415.5" font-size="15" text-anchor="middle" fill="#ff1414" font-weight="normal" font-family='"Liberation Sans", sans-serif' >44 kV/cm</text>
<text x="145.8" y="434" font-size="12.3" text-anchor="start" fill="#1010e0" font-weight="bold" font-family='"Liberation Sans", sans-serif' >Bi</text>
<path d="M144.2 429.1 L140.6 432.7" stroke="#1010e0" stroke-width="2.2"/><path d="M138 435.6 l0.6 -5.6 l4.4 3.6 z" fill="#1010e0"/>
<text x="99" y="575" font-size="9.6" text-anchor="middle" fill="#222" font-family='"Liberation Sans", sans-serif'>Position along <tspan font-family='"Liberation Serif", serif' font-size="10.6">[100]</tspan><tspan font-size="6.3" dy="2.2">pc</tspan><tspan dy="-2.2">&#160;(&#160;</tspan>Å&#160;)</text>
<text transform="translate(12.8 480.5) rotate(-90)" x="0" y="0" font-size="9.6" text-anchor="middle" fill="#222" font-family='"Liberation Sans", sans-serif'>Position along <tspan font-family='"Liberation Serif", serif' font-size="10.6">[010]</tspan><tspan font-size="6.3" dy="2.2">pc</tspan><tspan dy="-2.2">&#160;(&#160;</tspan>Å&#160;)</text>
<text x="97.2" y="594.1" font-size="20" text-anchor="middle" fill="#111" font-weight="normal" font-family='"Liberation Sans", sans-serif' >(d)</text>
<clipPath id="cle"><rect x="215.8" y="221.6" width="127.8" height="127.1"/></clipPath><g clip-path="url(#cle)"><rect x="215.8" y="221.6" width="127.8" height="127.1" fill="#ffff00"/><ellipse cx="290.2" cy="269.7" rx="32.8" ry="22.3" transform="rotate(-32.6 290.2 269.7)" fill="#ffa000" filter="url(#bo)"/><ellipse cx="290.2" cy="269.7" rx="30.8" ry="20.3" transform="rotate(-32.6 290.2 269.7)" fill="#ff0000" filter="url(#br)"/><ellipse cx="290.2" cy="269.7" rx="27.8" ry="17.3" transform="rotate(-32.6 290.2 269.7)" fill="#000" filter="url(#bk)"/><path d="M289 221.6V348.7" stroke="#1a7ec0" stroke-width="1.75" stroke-dasharray="6.8 6"/><path d="M215.8 269.6H343.6" stroke="#1a7ec0" stroke-width="1.75" stroke-dasharray="6.8 6" stroke-dashoffset="10.5"/><circle cx="289.5" cy="270" r="2.8" fill="#ff1010"/><text x="223.4" y="237.1" font-size="12" fill="#111">Z = 2.14&#160; Å</text></g><path d="M215.8 348.7v-6.3M215.8 221.6v6.3M222.19 348.7v-4M222.19 221.6v4M228.58 348.7v-4M228.58 221.6v4M234.97 348.7v-4M234.97 221.6v4M241.36 348.7v-4M241.36 221.6v4M247.75 348.7v-6.3M247.75 221.6v6.3M254.14 348.7v-4M254.14 221.6v4M260.53 348.7v-4M260.53 221.6v4M266.92 348.7v-4M266.92 221.6v4M273.31 348.7v-4M273.31 221.6v4M279.7 348.7v-6.3M279.7 221.6v6.3M286.09 348.7v-4M286.09 221.6v4M292.48 348.7v-4M292.48 221.6v4M298.87 348.7v-4M298.87 221.6v4M305.26 348.7v-4M305.26 221.6v4M311.65 348.7v-6.3M311.65 221.6v6.3M318.04 348.7v-4M318.04 221.6v4M324.43 348.7v-4M324.43 221.6v4M330.82 348.7v-4M330.82 221.6v4M337.21 348.7v-4M337.21 221.6v4M343.6 348.7v-6.3M343.6 221.6v6.3M215.8 348.7h6.3M343.6 348.7h-6.3M215.8 342.34h4M343.6 342.34h-4M215.8 335.99h4M343.6 335.99h-4M215.8 329.63h4M343.6 329.63h-4M215.8 323.28h4M343.6 323.28h-4M215.8 316.93h6.3M343.6 316.93h-6.3M215.8 310.57h4M343.6 310.57h-4M215.8 304.21h4M343.6 304.21h-4M215.8 297.86h4M343.6 297.86h-4M215.8 291.5h4M343.6 291.5h-4M215.8 285.15h6.3M343.6 285.15h-6.3M215.8 278.79h4M343.6 278.79h-4M215.8 272.44h4M343.6 272.44h-4M215.8 266.08h4M343.6 266.08h-4M215.8 259.73h4M343.6 259.73h-4M215.8 253.38h6.3M343.6 253.38h-6.3M215.8 247.02h4M343.6 247.02h-4M215.8 240.66h4M343.6 240.66h-4M215.8 234.31h4M343.6 234.31h-4M215.8 227.95h4M343.6 227.95h-4M215.8 221.6h6.3M343.6 221.6h-6.3" stroke="#000" stroke-width="1.3" fill="none"/><rect x="215.8" y="221.6" width="127.8" height="127.1" fill="none" stroke="#000" stroke-width="1.5"/>
<text x="215.2" y="362.5" font-size="12.4" text-anchor="middle" fill="#333" font-weight="normal" font-family='"Liberation Sans", sans-serif' >1</text>
<text x="278" y="362.5" font-size="12.4" text-anchor="middle" fill="#333" font-weight="normal" font-family='"Liberation Sans", sans-serif' >2</text>
<text x="340.4" y="362.5" font-size="12.4" text-anchor="middle" fill="#333" font-weight="normal" font-family='"Liberation Sans", sans-serif' >3</text>
<text x="212.8" y="353.16" font-size="12.4" text-anchor="end" fill="#333" font-weight="normal" font-family='"Liberation Sans", sans-serif' >-3</text>
<text x="212.8" y="289.61" font-size="12.4" text-anchor="end" fill="#333" font-weight="normal" font-family='"Liberation Sans", sans-serif' >-2</text>
<text x="212.8" y="226.06" font-size="12.4" text-anchor="end" fill="#333" font-weight="normal" font-family='"Liberation Sans", sans-serif' >-1</text>
<text x="281" y="216.7" font-size="13" text-anchor="middle" fill="#111" font-weight="normal" font-family='"Liberation Sans", sans-serif' >0 kV/cm</text>
<text x="294.3" y="316.3" font-size="12.5" text-anchor="start" fill="#ff1a00" font-weight="bold" font-family='"Liberation Sans", sans-serif' textLength="39.5" lengthAdjust="spacingAndGlyphs" stroke="#ff1a00" stroke-width="0.55">Weight</text>
<text x="296.3" y="330.7" font-size="12.5" text-anchor="start" fill="#ff1a00" font-weight="bold" font-family='"Liberation Sans", sans-serif' textLength="36.3" lengthAdjust="spacingAndGlyphs" stroke="#ff1a00" stroke-width="0.55">center</text>
<path d="M292 274 L309.5 306.5" stroke="#ff1010" stroke-width="0.7"/><path d="M291 272.3 l0.5 4.5 l2.6 -1.6 z" fill="#ff1010"/>
<text x="281" y="374.7" font-size="10.6" text-anchor="middle" fill="#222" font-family='"Liberation Sans", sans-serif'>Position along <tspan font-family='"Liberation Serif", serif' font-size="11.7">[100]</tspan><tspan font-size="7.0" dy="2.2">pc</tspan><tspan dy="-2.2">&#160;(&#160;</tspan>Å&#160;)</text>
<text transform="translate(196.5 286) rotate(-90)" x="0" y="0" font-size="10.6" text-anchor="middle" fill="#222" font-family='"Liberation Sans", sans-serif'>Position along <tspan font-family='"Liberation Serif", serif' font-size="11.7">[010]</tspan><tspan font-size="7.0" dy="2.2">pc</tspan><tspan dy="-2.2">&#160;(&#160;</tspan>Å&#160;)</text>
<text x="313" y="395.8" font-size="20" text-anchor="middle" fill="#111" font-weight="normal" font-family='"Liberation Sans", sans-serif' >(e)</text>
<path d="M354.9 264.7L355.6 306.9M354.9 264.7L369.4 250.3M354.9 264.7L398.5 269.7M355.6 306.9L370.1 292.5M355.6 306.9L399.2 311.9M369.4 250.3L370.1 292.5M369.4 250.3L413 255.3M370.1 292.5L413.7 297.5M398.5 269.7L399.2 311.9M398.5 269.7L413 255.3M399.2 311.9L413.7 297.5M413 255.3L413.7 297.5" stroke="#6a6a6a" stroke-width="0.75" fill="none"/><circle cx="370.1" cy="292.5" r="5.5" fill="url(#gbi)"/><circle cx="413.7" cy="297.5" r="5.5" fill="url(#gbi)"/><circle cx="391.55" cy="273.9" r="5.8" fill="url(#go)"/><polygon points="362.5,278.6 383.95,260 406.1,283.6 384.65,302.2" fill="#8fbcbc" opacity="0.45"/><polygon points="362.5,278.6 377.05,288.3 406.1,283.6 383.95,260" fill="#a9d0d0" opacity="0.35"/><circle cx="369.4" cy="250.3" r="5.5" fill="url(#gbi)"/><circle cx="413" cy="255.3" r="5.5" fill="url(#gbi)"/><circle cx="383.95" cy="260" r="6" fill="url(#go)"/><polygon points="380.9,263.7 424.2,265 413.4,275.7 376.9,276.2" fill="#8c8cf6" opacity="0.5"/><circle cx="406.1" cy="283.6" r="6.2" fill="url(#go)"/><circle cx="398.5" cy="269.7" r="6" fill="url(#go)"/><circle cx="362.5" cy="278.6" r="6.2" fill="url(#go)"/><circle cx="384.3" cy="281.1" r="3.4" fill="url(#gfe)"/><circle cx="377.05" cy="288.3" r="6.2" fill="url(#go)"/><circle cx="384.65" cy="302.2" r="6.2" fill="url(#go)"/><circle cx="354.9" cy="264.7" r="5.5" fill="url(#gbi)"/><circle cx="355.6" cy="306.9" r="5.5" fill="url(#gbi)"/><circle cx="399.2" cy="311.9" r="5.5" fill="url(#gbi)"/><g transform="translate(405.2 257) rotate(170.8)"><polygon points="0,-1.9 36.76,-1.9 36.76,-4.2 43.76,0 36.76,4.2 36.76,1.9 0,1.9" fill="#ffee00" stroke="#a09000" stroke-width="0.5"/></g><path d="M366.2 244.2L368.4 247M396 253.4L390.3 258.4M409.4 285.3L421.5 285.3M384 281.7L367.7 310" stroke="#111" stroke-width="0.8"/><text x="364.2" y="242.4" font-size="9.4" text-anchor="middle" fill="#222">Bi</text><text x="395.8" y="251.7" font-size="9.4" text-anchor="middle" fill="#222">E</text><text x="426.7" y="290.3" font-size="10.2" text-anchor="middle" fill="#222">O</text><text x="367.5" y="323.3" font-size="9.8" text-anchor="middle" fill="#222">Fe</text><text x="406.4" y="230.4" font-size="9.3" text-anchor="middle" fill="#3030f0">x-y cross-</text><text x="408.9" y="241.4" font-size="9.3" text-anchor="middle" fill="#3030f0">section</text><path d="M419.7 245.7V266.2" stroke="#3030f0" stroke-width="1"/>
<path d="M343.6 221.6 L388.9 261.2 M343.6 348.7 L378.3 273.2" stroke="#2020f0" stroke-width="1.3"/>
<clipPath id="clf"><rect x="216.6" y="419.8" width="127.2" height="128.4"/></clipPath><g clip-path="url(#clf)"><rect x="216.6" y="419.8" width="127.2" height="128.4" fill="#ffff00"/><ellipse cx="285.75" cy="475.75" rx="32.6" ry="21.7" transform="rotate(-34.5 285.75 475.75)" fill="#ffa000" filter="url(#bo)"/><ellipse cx="285.75" cy="475.75" rx="30.6" ry="19.7" transform="rotate(-34.5 285.75 475.75)" fill="#ff0000" filter="url(#br)"/><ellipse cx="285.75" cy="475.75" rx="27.6" ry="16.7" transform="rotate(-34.5 285.75 475.75)" fill="#000" filter="url(#bk)"/><path d="M289.6 419.8V548.2" stroke="#1a7ec0" stroke-width="1.75" stroke-dasharray="6.8 6"/><path d="M216.6 468.6H343.8" stroke="#1a7ec0" stroke-width="1.75" stroke-dasharray="6.8 6" stroke-dashoffset="10.5"/><circle cx="284.7" cy="475" r="2.8" fill="#ff1010"/><text x="224.2" y="435.3" font-size="12" fill="#111">Z = 2.06&#160; Å</text></g><path d="M216.6 548.2v-6.3M216.6 419.8v6.3M222.96 548.2v-4M222.96 419.8v4M229.32 548.2v-4M229.32 419.8v4M235.68 548.2v-4M235.68 419.8v4M242.04 548.2v-4M242.04 419.8v4M248.4 548.2v-6.3M248.4 419.8v6.3M254.76 548.2v-4M254.76 419.8v4M261.12 548.2v-4M261.12 419.8v4M267.48 548.2v-4M267.48 419.8v4M273.84 548.2v-4M273.84 419.8v4M280.2 548.2v-6.3M280.2 419.8v6.3M286.56 548.2v-4M286.56 419.8v4M292.92 548.2v-4M292.92 419.8v4M299.28 548.2v-4M299.28 419.8v4M305.64 548.2v-4M305.64 419.8v4M312 548.2v-6.3M312 419.8v6.3M318.36 548.2v-4M318.36 419.8v4M324.72 548.2v-4M324.72 419.8v4M331.08 548.2v-4M331.08 419.8v4M337.44 548.2v-4M337.44 419.8v4M343.8 548.2v-6.3M343.8 419.8v6.3M216.6 548.2h6.3M343.8 548.2h-6.3M216.6 541.78h4M343.8 541.78h-4M216.6 535.36h4M343.8 535.36h-4M216.6 528.94h4M343.8 528.94h-4M216.6 522.52h4M343.8 522.52h-4M216.6 516.1h6.3M343.8 516.1h-6.3M216.6 509.68h4M343.8 509.68h-4M216.6 503.26h4M343.8 503.26h-4M216.6 496.84h4M343.8 496.84h-4M216.6 490.42h4M343.8 490.42h-4M216.6 484h6.3M343.8 484h-6.3M216.6 477.58h4M343.8 477.58h-4M216.6 471.16h4M343.8 471.16h-4M216.6 464.74h4M343.8 464.74h-4M216.6 458.32h4M343.8 458.32h-4M216.6 451.9h6.3M343.8 451.9h-6.3M216.6 445.48h4M343.8 445.48h-4M216.6 439.06h4M343.8 439.06h-4M216.6 432.64h4M343.8 432.64h-4M216.6 426.22h4M343.8 426.22h-4M216.6 419.8h6.3M343.8 419.8h-6.3" stroke="#000" stroke-width="1.3" fill="none"/><rect x="216.6" y="419.8" width="127.2" height="128.4" fill="none" stroke="#000" stroke-width="1.5"/>
<text x="215.5" y="562" font-size="12.4" text-anchor="middle" fill="#333" font-weight="normal" font-family='"Liberation Sans", sans-serif' >1</text>
<text x="278.3" y="562" font-size="12.4" text-anchor="middle" fill="#333" font-weight="normal" font-family='"Liberation Sans", sans-serif' >2</text>
<text x="341.3" y="562" font-size="12.4" text-anchor="middle" fill="#333" font-weight="normal" font-family='"Liberation Sans", sans-serif' >3</text>
<text x="213.6" y="552.66" font-size="12.4" text-anchor="end" fill="#333" font-weight="normal" font-family='"Liberation Sans", sans-serif' >-3</text>
<text x="213.6" y="488.46" font-size="12.4" text-anchor="end" fill="#333" font-weight="normal" font-family='"Liberation Sans", sans-serif' >-2</text>
<text x="213.6" y="424.26" font-size="12.4" text-anchor="end" fill="#333" font-weight="normal" font-family='"Liberation Sans", sans-serif' >-1</text>
<text x="276.3" y="415.3" font-size="15" text-anchor="middle" fill="#ff1414" font-weight="normal" font-family='"Liberation Sans", sans-serif' >44 kV/cm</text>
<text x="281" y="574.5" font-size="10.6" text-anchor="middle" fill="#222" font-family='"Liberation Sans", sans-serif'>Position along <tspan font-family='"Liberation Serif", serif' font-size="11.7">[100]</tspan><tspan font-size="7.0" dy="2.2">pc</tspan><tspan dy="-2.2">&#160;(&#160;</tspan>Å&#160;)</text>
<text transform="translate(196.5 485) rotate(-90)" x="0" y="0" font-size="10.6" text-anchor="middle" fill="#222" font-family='"Liberation Sans", sans-serif'>Position along <tspan font-family='"Liberation Serif", serif' font-size="11.7">[010]</tspan><tspan font-size="7.0" dy="2.2">pc</tspan><tspan dy="-2.2">&#160;(&#160;</tspan>Å&#160;)</text>
<text x="310.2" y="594.3" font-size="20" text-anchor="middle" fill="#111" font-weight="normal" font-family='"Liberation Sans", sans-serif' >(f)</text>
<path d="M354.2 463.5L354.9 505.7M354.2 463.5L368.7 449.1M354.2 463.5L397.8 468.5M354.9 505.7L369.4 491.3M354.9 505.7L398.5 510.7M368.7 449.1L369.4 491.3M368.7 449.1L412.3 454.1M369.4 491.3L413 496.3M397.8 468.5L398.5 510.7M397.8 468.5L412.3 454.1M398.5 510.7L413 496.3M412.3 454.1L413 496.3" stroke="#6a6a6a" stroke-width="0.75" fill="none"/><circle cx="369.4" cy="491.3" r="5.5" fill="url(#gbi)"/><circle cx="413" cy="496.3" r="5.5" fill="url(#gbi)"/><circle cx="390.85" cy="472.7" r="5.8" fill="url(#go)"/><polygon points="361.8,477.4 383.25,458.8 405.4,482.4 383.95,501" fill="#8fbcbc" opacity="0.45"/><polygon points="361.8,477.4 376.35,487.1 405.4,482.4 383.25,458.8" fill="#a9d0d0" opacity="0.35"/><circle cx="368.7" cy="449.1" r="5.5" fill="url(#gbi)"/><circle cx="412.3" cy="454.1" r="5.5" fill="url(#gbi)"/><circle cx="383.25" cy="458.8" r="6" fill="url(#go)"/><polygon points="380.2,462.5 423.5,463.8 412.7,474.5 376.2,475" fill="#8c8cf6" opacity="0.5"/><circle cx="405.4" cy="482.4" r="6.2" fill="url(#go)"/><circle cx="397.8" cy="468.5" r="6" fill="url(#go)"/><circle cx="361.8" cy="477.4" r="6.2" fill="url(#go)"/><circle cx="383.6" cy="479.9" r="3.4" fill="url(#gfe)"/><circle cx="376.35" cy="487.1" r="6.2" fill="url(#go)"/><circle cx="383.95" cy="501" r="6.2" fill="url(#go)"/><circle cx="354.2" cy="463.5" r="5.5" fill="url(#gbi)"/><circle cx="354.9" cy="505.7" r="5.5" fill="url(#gbi)"/><circle cx="398.5" cy="510.7" r="5.5" fill="url(#gbi)"/><g transform="translate(404.5 455.8) rotate(170.8)"><polygon points="0,-1.9 36.76,-1.9 36.76,-4.2 43.76,0 36.76,4.2 36.76,1.9 0,1.9" fill="#ffee00" stroke="#a09000" stroke-width="0.5"/></g><path d="M365.5 443L367.7 445.8M395.3 452.2L389.6 457.2M408.7 484.1L420.8 484.1M383.3 480.5L367 508.8" stroke="#111" stroke-width="0.8"/><text x="363.5" y="441.2" font-size="9.4" text-anchor="middle" fill="#222">Bi</text><text x="395.1" y="450.5" font-size="9.4" text-anchor="middle" fill="#222">E</text><text x="426" y="489.1" font-size="10.2" text-anchor="middle" fill="#222">O</text><text x="366.8" y="522.1" font-size="9.8" text-anchor="middle" fill="#222">Fe</text><text x="405.7" y="429.2" font-size="9.3" text-anchor="middle" fill="#3030f0">x-y cross-</text><text x="408.2" y="440.2" font-size="9.3" text-anchor="middle" fill="#3030f0">section</text><path d="M419 444.5V465" stroke="#3030f0" stroke-width="1"/>
<path d="M343.8 419.8 L388.2 460 M343.3 545.5 L377.5 472.5" stroke="#2020f0" stroke-width="1.3"/>
<clipPath id="clg"><rect x="467.4" y="222.4" width="126.5" height="126.5"/></clipPath><g clip-path="url(#clg)"><rect x="467.4" y="222.4" width="126.5" height="126.5" fill="#ffff00"/><ellipse cx="530" cy="292" rx="10" ry="7" transform="rotate(-40 530 292)" fill="#ff8a10" filter="url(#blur2)"/><path d="M540.2,252.3C543.33,252.77 548.92,256.1 552.3,258.3C555.68,260.5 558.55,263.13 560.5,265.5C562.45,267.87 563.38,269.87 564,272.5C564.62,275.13 565.12,278.38 564.2,281.3C563.28,284.22 561.03,287.55 558.5,290C555.97,292.45 552.05,294.7 549,296C545.95,297.3 543.53,298.05 540.2,297.8C536.87,297.55 532.03,295.88 529,294.5C525.97,293.12 523.7,291.42 522,289.5C520.3,287.58 519.43,285.25 518.8,283C518.17,280.75 517.83,278.42 518.2,276C518.57,273.58 519.62,270.83 521,268.5C522.38,266.17 524.42,264.17 526.5,262C528.58,259.83 531.22,257.12 533.5,255.5C535.78,253.88 537.07,251.83 540.2,252.3Z" fill="#ffa000" stroke="#ffa000" stroke-width="11" stroke-linejoin="round" filter="url(#bo)"/><path d="M540.2,252.3C543.33,252.77 548.92,256.1 552.3,258.3C555.68,260.5 558.55,263.13 560.5,265.5C562.45,267.87 563.38,269.87 564,272.5C564.62,275.13 565.12,278.38 564.2,281.3C563.28,284.22 561.03,287.55 558.5,290C555.97,292.45 552.05,294.7 549,296C545.95,297.3 543.53,298.05 540.2,297.8C536.87,297.55 532.03,295.88 529,294.5C525.97,293.12 523.7,291.42 522,289.5C520.3,287.58 519.43,285.25 518.8,283C518.17,280.75 517.83,278.42 518.2,276C518.57,273.58 519.62,270.83 521,268.5C522.38,266.17 524.42,264.17 526.5,262C528.58,259.83 531.22,257.12 533.5,255.5C535.78,253.88 537.07,251.83 540.2,252.3Z" fill="#ff0000" stroke="#ff0000" stroke-width="6.5" stroke-linejoin="round" filter="url(#br)"/><path d="M540.2,252.3C543.33,252.77 548.92,256.1 552.3,258.3C555.68,260.5 558.55,263.13 560.5,265.5C562.45,267.87 563.38,269.87 564,272.5C564.62,275.13 565.12,278.38 564.2,281.3C563.28,284.22 561.03,287.55 558.5,290C555.97,292.45 552.05,294.7 549,296C545.95,297.3 543.53,298.05 540.2,297.8C536.87,297.55 532.03,295.88 529,294.5C525.97,293.12 523.7,291.42 522,289.5C520.3,287.58 519.43,285.25 518.8,283C518.17,280.75 517.83,278.42 518.2,276C518.57,273.58 519.62,270.83 521,268.5C522.38,266.17 524.42,264.17 526.5,262C528.58,259.83 531.22,257.12 533.5,255.5C535.78,253.88 537.07,251.83 540.2,252.3Z" fill="#000" filter="url(#bk)"/><path d="M540.2 222.4V348.9" stroke="#1a7ec0" stroke-width="1.75" stroke-dasharray="6.8 6"/><path d="M467.4 276.4H593.9" stroke="#1a7ec0" stroke-width="1.75" stroke-dasharray="6.8 6" stroke-dashoffset="10.5"/><circle cx="540.2" cy="276.4" r="2.2" fill="none" stroke="#ff1010" stroke-width="1.3"/><text x="473.3" y="237.9" font-size="12" fill="#111">Y = 1.76&#160; Å</text></g><path d="M467.4 348.9v-6.3M467.4 222.4v6.3M473.72 348.9v-4M473.72 222.4v4M480.05 348.9v-4M480.05 222.4v4M486.38 348.9v-4M486.38 222.4v4M492.7 348.9v-4M492.7 222.4v4M499.02 348.9v-6.3M499.02 222.4v6.3M505.35 348.9v-4M505.35 222.4v4M511.68 348.9v-4M511.68 222.4v4M518 348.9v-4M518 222.4v4M524.32 348.9v-4M524.32 222.4v4M530.65 348.9v-6.3M530.65 222.4v6.3M536.98 348.9v-4M536.98 222.4v4M543.3 348.9v-4M543.3 222.4v4M549.62 348.9v-4M549.62 222.4v4M555.95 348.9v-4M555.95 222.4v4M562.27 348.9v-6.3M562.27 222.4v6.3M568.6 348.9v-4M568.6 222.4v4M574.92 348.9v-4M574.92 222.4v4M581.25 348.9v-4M581.25 222.4v4M587.58 348.9v-4M587.58 222.4v4M593.9 348.9v-6.3M593.9 222.4v6.3M467.4 348.9h6.3M593.9 348.9h-6.3M467.4 342.57h4M593.9 342.57h-4M467.4 336.25h4M593.9 336.25h-4M467.4 329.92h4M593.9 329.92h-4M467.4 323.6h4M593.9 323.6h-4M467.4 317.27h6.3M593.9 317.27h-6.3M467.4 310.95h4M593.9 310.95h-4M467.4 304.62h4M593.9 304.62h-4M467.4 298.3h4M593.9 298.3h-4M467.4 291.98h4M593.9 291.98h-4M467.4 285.65h6.3M593.9 285.65h-6.3M467.4 279.32h4M593.9 279.32h-4M467.4 273h4M593.9 273h-4M467.4 266.68h4M593.9 266.68h-4M467.4 260.35h4M593.9 260.35h-4M467.4 254.03h6.3M593.9 254.03h-6.3M467.4 247.7h4M593.9 247.7h-4M467.4 241.38h4M593.9 241.38h-4M467.4 235.05h4M593.9 235.05h-4M467.4 228.72h4M593.9 228.72h-4M467.4 222.4h6.3M593.9 222.4h-6.3" stroke="#000" stroke-width="1.3" fill="none"/><rect x="467.4" y="222.4" width="126.5" height="126.5" fill="none" stroke="#000" stroke-width="1.5"/>
<text x="466.4" y="362.7" font-size="12.4" text-anchor="middle" fill="#333" font-weight="normal" font-family='"Liberation Sans", sans-serif' >1</text>
<text x="527" y="362.7" font-size="12.4" text-anchor="middle" fill="#333" font-weight="normal" font-family='"Liberation Sans", sans-serif' >2</text>
<text x="590.2" y="362.7" font-size="12.4" text-anchor="middle" fill="#333" font-weight="normal" font-family='"Liberation Sans", sans-serif' >3</text>
<text x="461.3" y="353.36" font-size="12.4" text-anchor="end" fill="#333" font-weight="normal" font-family='"Liberation Sans", sans-serif' >1</text>
<text x="461.3" y="290.11" font-size="12.4" text-anchor="end" fill="#333" font-weight="normal" font-family='"Liberation Sans", sans-serif' >2</text>
<text x="461.3" y="226.86" font-size="12.4" text-anchor="end" fill="#333" font-weight="normal" font-family='"Liberation Sans", sans-serif' >3</text>
<text x="524.1" y="216.7" font-size="13" text-anchor="middle" fill="#111" font-weight="normal" font-family='"Liberation Sans", sans-serif' >0 kV/cm</text>
<text x="531" y="375.3" font-size="10.6" text-anchor="middle" fill="#222" font-family='"Liberation Sans", sans-serif'>Position along <tspan font-family='"Liberation Serif", serif' font-size="11.7">[100]</tspan><tspan font-size="7.0" dy="2.2">pc</tspan><tspan dy="-2.2">&#160;(&#160;</tspan>Å&#160;)</text>
<text transform="translate(444.3 286) rotate(-90)" x="0" y="0" font-size="10.6" text-anchor="middle" fill="#222" font-family='"Liberation Sans", sans-serif'>Position along <tspan font-family='"Liberation Serif", serif' font-size="11.7">[010]</tspan><tspan font-size="7.0" dy="2.2">pc</tspan><tspan dy="-2.2">&#160;(&#160;</tspan>Å&#160;)</text>
<text x="553.9" y="394.7" font-size="20" text-anchor="middle" fill="#111" font-weight="normal" font-family='"Liberation Sans", sans-serif' >(g)</text>
<path d="M605.6 264L606.3 306.2M605.6 264L620.1 249.6M605.6 264L649.2 269M606.3 306.2L620.8 291.8M606.3 306.2L649.9 311.2M620.1 249.6L620.8 291.8M620.1 249.6L663.7 254.6M620.8 291.8L664.4 296.8M649.2 269L649.9 311.2M649.2 269L663.7 254.6M649.9 311.2L664.4 296.8M663.7 254.6L664.4 296.8" stroke="#6a6a6a" stroke-width="0.75" fill="none"/><circle cx="620.8" cy="291.8" r="5.5" fill="url(#gbi)"/><circle cx="664.4" cy="296.8" r="5.5" fill="url(#gbi)"/><circle cx="642.25" cy="273.2" r="5.8" fill="url(#go)"/><polygon points="613.2,277.9 634.65,259.3 656.8,282.9 635.35,301.5" fill="#8fbcbc" opacity="0.45"/><polygon points="613.2,277.9 627.75,287.6 656.8,282.9 634.65,259.3" fill="#a9d0d0" opacity="0.35"/><circle cx="620.1" cy="249.6" r="5.5" fill="url(#gbi)"/><circle cx="634.65" cy="259.3" r="6" fill="url(#go)"/><circle cx="656.8" cy="282.9" r="6.2" fill="url(#go)"/><circle cx="649.2" cy="269" r="5.5" fill="url(#gau)"/><polygon points="634.2,252.5 670.1,255.5 670.1,297.5 634.2,294.5" fill="#f08a8a" opacity="0.52"/><circle cx="663.7" cy="254.6" r="5.5" fill="url(#gbi)"/><circle cx="664.4" cy="296.8" r="5.5" fill="url(#gbi)"/><circle cx="613.2" cy="277.9" r="6.2" fill="url(#go)"/><circle cx="635" cy="280.4" r="3.4" fill="url(#gfe)"/><circle cx="627.75" cy="287.6" r="6.2" fill="url(#go)"/><circle cx="635.35" cy="301.5" r="6.2" fill="url(#go)"/><circle cx="605.6" cy="264" r="5.5" fill="url(#gbi)"/><circle cx="606.3" cy="306.2" r="5.5" fill="url(#gbi)"/><circle cx="649.9" cy="311.2" r="5.5" fill="url(#gbi)"/><g transform="translate(655.9 256.3) rotate(170.8)"><polygon points="0,-1.9 36.76,-1.9 36.76,-4.2 43.76,0 36.76,4.2 36.76,1.9 0,1.9" fill="#ffee00" stroke="#a09000" stroke-width="0.5"/></g><path d="M616.9 243.5L619.1 246.3M646.7 252.7L641 257.7M660.1 284.6L672.2 284.6M634.7 281L618.4 309.3" stroke="#111" stroke-width="0.8"/><text x="614.9" y="241.7" font-size="9.4" text-anchor="middle" fill="#222">Bi</text><text x="646.5" y="251" font-size="9.4" text-anchor="middle" fill="#222">E</text><text x="677.4" y="289.6" font-size="10.2" text-anchor="middle" fill="#222">O</text><text x="618.2" y="322.6" font-size="9.8" text-anchor="middle" fill="#222">Fe</text><text x="658.8" y="229.5" font-size="9.3" text-anchor="middle" fill="#f02020">x-z cross-</text><text x="659.7" y="241.2" font-size="9.3" text-anchor="middle" fill="#f02020">section</text><path d="M674.4 242L668 259.4" stroke="#f02020" stroke-width="1"/>
<path d="M593.9 222.4 L634 254 M593.9 348.9 L635.8 280.5" stroke="#f01010" stroke-width="1.3"/>
<clipPath id="clh"><rect x="466.7" y="419.1" width="128.8" height="129.1"/></clipPath><g clip-path="url(#clh)"><rect x="466.7" y="419.1" width="128.8" height="129.1" fill="#ffff00"/><ellipse cx="522" cy="492" rx="9" ry="8" fill="#ff8a10" filter="url(#blur2)"/><path d="M533.5,457.3C536.67,457.1 539.47,458.13 542,459C544.53,459.87 546.62,460.75 548.7,462.5C550.78,464.25 552.95,466.78 554.5,469.5C556.05,472.22 557.8,475.68 558,478.8C558.2,481.92 557.25,485.28 555.7,488.2C554.15,491.12 551.82,494.27 548.7,496.3C545.58,498.33 541.28,500.4 537,500.4C532.72,500.4 526.5,498.15 523,496.3C519.5,494.45 517.45,492.02 516,489.3C514.55,486.58 514.3,483.5 514.3,480C514.3,476.5 514.55,471.6 516,468.3C517.45,465 520.08,462.03 523,460.2C525.92,458.37 530.33,457.5 533.5,457.3Z" fill="#ffa000" stroke="#ffa000" stroke-width="11" stroke-linejoin="round" filter="url(#bo)"/><path d="M533.5,457.3C536.67,457.1 539.47,458.13 542,459C544.53,459.87 546.62,460.75 548.7,462.5C550.78,464.25 552.95,466.78 554.5,469.5C556.05,472.22 557.8,475.68 558,478.8C558.2,481.92 557.25,485.28 555.7,488.2C554.15,491.12 551.82,494.27 548.7,496.3C545.58,498.33 541.28,500.4 537,500.4C532.72,500.4 526.5,498.15 523,496.3C519.5,494.45 517.45,492.02 516,489.3C514.55,486.58 514.3,483.5 514.3,480C514.3,476.5 514.55,471.6 516,468.3C517.45,465 520.08,462.03 523,460.2C525.92,458.37 530.33,457.5 533.5,457.3Z" fill="#ff0000" stroke="#ff0000" stroke-width="6.5" stroke-linejoin="round" filter="url(#br)"/><path d="M533.5,457.3C536.67,457.1 539.47,458.13 542,459C544.53,459.87 546.62,460.75 548.7,462.5C550.78,464.25 552.95,466.78 554.5,469.5C556.05,472.22 557.8,475.68 558,478.8C558.2,481.92 557.25,485.28 555.7,488.2C554.15,491.12 551.82,494.27 548.7,496.3C545.58,498.33 541.28,500.4 537,500.4C532.72,500.4 526.5,498.15 523,496.3C519.5,494.45 517.45,492.02 516,489.3C514.55,486.58 514.3,483.5 514.3,480C514.3,476.5 514.55,471.6 516,468.3C517.45,465 520.08,462.03 523,460.2C525.92,458.37 530.33,457.5 533.5,457.3Z" fill="#000" filter="url(#bk)"/><path d="M541.7 419.1V548.2" stroke="#1a7ec0" stroke-width="1.75" stroke-dasharray="6.8 6"/><path d="M466.7 473.9H595.5" stroke="#1a7ec0" stroke-width="1.75" stroke-dasharray="6.8 6" stroke-dashoffset="10.5"/><circle cx="538.8" cy="480" r="2.8" fill="#ff1010"/><text x="472.6" y="434.6" font-size="12" fill="#111">Y = 1.87&#160; Å</text></g><path d="M466.7 548.2v-6.3M466.7 419.1v6.3M473.14 548.2v-4M473.14 419.1v4M479.58 548.2v-4M479.58 419.1v4M486.02 548.2v-4M486.02 419.1v4M492.46 548.2v-4M492.46 419.1v4M498.9 548.2v-6.3M498.9 419.1v6.3M505.34 548.2v-4M505.34 419.1v4M511.78 548.2v-4M511.78 419.1v4M518.22 548.2v-4M518.22 419.1v4M524.66 548.2v-4M524.66 419.1v4M531.1 548.2v-6.3M531.1 419.1v6.3M537.54 548.2v-4M537.54 419.1v4M543.98 548.2v-4M543.98 419.1v4M550.42 548.2v-4M550.42 419.1v4M556.86 548.2v-4M556.86 419.1v4M563.3 548.2v-6.3M563.3 419.1v6.3M569.74 548.2v-4M569.74 419.1v4M576.18 548.2v-4M576.18 419.1v4M582.62 548.2v-4M582.62 419.1v4M589.06 548.2v-4M589.06 419.1v4M595.5 548.2v-6.3M595.5 419.1v6.3M466.7 548.2h6.3M595.5 548.2h-6.3M466.7 541.75h4M595.5 541.75h-4M466.7 535.29h4M595.5 535.29h-4M466.7 528.84h4M595.5 528.84h-4M466.7 522.38h4M595.5 522.38h-4M466.7 515.93h6.3M595.5 515.93h-6.3M466.7 509.47h4M595.5 509.47h-4M466.7 503.02h4M595.5 503.02h-4M466.7 496.56h4M595.5 496.56h-4M466.7 490.11h4M595.5 490.11h-4M466.7 483.65h6.3M595.5 483.65h-6.3M466.7 477.2h4M595.5 477.2h-4M466.7 470.74h4M595.5 470.74h-4M466.7 464.29h4M595.5 464.29h-4M466.7 457.83h4M595.5 457.83h-4M466.7 451.38h6.3M595.5 451.38h-6.3M466.7 444.92h4M595.5 444.92h-4M466.7 438.47h4M595.5 438.47h-4M466.7 432.01h4M595.5 432.01h-4M466.7 425.56h4M595.5 425.56h-4M466.7 419.1h6.3M595.5 419.1h-6.3" stroke="#000" stroke-width="1.3" fill="none"/><rect x="466.7" y="419.1" width="128.8" height="129.1" fill="none" stroke="#000" stroke-width="1.5"/>
<text x="465.8" y="562" font-size="12.4" text-anchor="middle" fill="#333" font-weight="normal" font-family='"Liberation Sans", sans-serif' >1</text>
<text x="528.8" y="562" font-size="12.4" text-anchor="middle" fill="#333" font-weight="normal" font-family='"Liberation Sans", sans-serif' >2</text>
<text x="592.6" y="562" font-size="12.4" text-anchor="middle" fill="#333" font-weight="normal" font-family='"Liberation Sans", sans-serif' >3</text>
<text x="460.6" y="552.66" font-size="12.4" text-anchor="end" fill="#333" font-weight="normal" font-family='"Liberation Sans", sans-serif' >1</text>
<text x="460.6" y="488.11" font-size="12.4" text-anchor="end" fill="#333" font-weight="normal" font-family='"Liberation Sans", sans-serif' >2</text>
<text x="460.6" y="423.56" font-size="12.4" text-anchor="end" fill="#333" font-weight="normal" font-family='"Liberation Sans", sans-serif' >3</text>
<text x="531.7" y="413.3" font-size="15" text-anchor="middle" fill="#ff1414" font-weight="normal" font-family='"Liberation Sans", sans-serif' >44 kV/cm</text>
<text x="529" y="574" font-size="10.6" text-anchor="middle" fill="#222" font-family='"Liberation Sans", sans-serif'>Position along <tspan font-family='"Liberation Serif", serif' font-size="11.7">[100]</tspan><tspan font-size="7.0" dy="2.2">pc</tspan><tspan dy="-2.2">&#160;(&#160;</tspan>Å&#160;)</text>
<text transform="translate(443 484) rotate(-90)" x="0" y="0" font-size="10.6" text-anchor="middle" fill="#222" font-family='"Liberation Sans", sans-serif'>Position along <tspan font-family='"Liberation Serif", serif' font-size="11.7">[010]</tspan><tspan font-size="7.0" dy="2.2">pc</tspan><tspan dy="-2.2">&#160;(&#160;</tspan>Å&#160;)</text>
<text x="553.9" y="593.4" font-size="20" text-anchor="middle" fill="#111" font-weight="normal" font-family='"Liberation Sans", sans-serif' >(h)</text>
<path d="M607.4 464.4L608.1 506.6M607.4 464.4L621.9 450M607.4 464.4L651 469.4M608.1 506.6L622.6 492.2M608.1 506.6L651.7 511.6M621.9 450L622.6 492.2M621.9 450L665.5 455M622.6 492.2L666.2 497.2M651 469.4L651.7 511.6M651 469.4L665.5 455M651.7 511.6L666.2 497.2M665.5 455L666.2 497.2" stroke="#6a6a6a" stroke-width="0.75" fill="none"/><circle cx="622.6" cy="492.2" r="5.5" fill="url(#gbi)"/><circle cx="666.2" cy="497.2" r="5.5" fill="url(#gbi)"/><circle cx="644.05" cy="473.6" r="5.8" fill="url(#go)"/><polygon points="615,478.3 636.45,459.7 658.6,483.3 637.15,501.9" fill="#8fbcbc" opacity="0.45"/><polygon points="615,478.3 629.55,488 658.6,483.3 636.45,459.7" fill="#a9d0d0" opacity="0.35"/><circle cx="621.9" cy="450" r="5.5" fill="url(#gbi)"/><circle cx="636.45" cy="459.7" r="6" fill="url(#go)"/><circle cx="658.6" cy="483.3" r="6.2" fill="url(#go)"/><circle cx="651" cy="469.4" r="5.5" fill="url(#gau)"/><polygon points="636,452.9 671.9,455.9 671.9,497.9 636,494.9" fill="#f08a8a" opacity="0.52"/><circle cx="665.5" cy="455" r="5.5" fill="url(#gbi)"/><circle cx="666.2" cy="497.2" r="5.5" fill="url(#gbi)"/><circle cx="615" cy="478.3" r="6.2" fill="url(#go)"/><circle cx="636.8" cy="480.8" r="3.4" fill="url(#gfe)"/><circle cx="629.55" cy="488" r="6.2" fill="url(#go)"/><circle cx="637.15" cy="501.9" r="6.2" fill="url(#go)"/><circle cx="607.4" cy="464.4" r="5.5" fill="url(#gbi)"/><circle cx="608.1" cy="506.6" r="5.5" fill="url(#gbi)"/><circle cx="651.7" cy="511.6" r="5.5" fill="url(#gbi)"/><g transform="translate(657.7 456.7) rotate(170.8)"><polygon points="0,-1.9 36.76,-1.9 36.76,-4.2 43.76,0 36.76,4.2 36.76,1.9 0,1.9" fill="#ffee00" stroke="#a09000" stroke-width="0.5"/></g><path d="M618.7 443.9L620.9 446.7M648.5 453.1L642.8 458.1M661.9 485L674 485M636.5 481.4L620.2 509.7" stroke="#111" stroke-width="0.8"/><text x="616.7" y="442.1" font-size="9.4" text-anchor="middle" fill="#222">Bi</text><text x="648.3" y="451.4" font-size="9.4" text-anchor="middle" fill="#222">E</text><text x="679.2" y="490" font-size="10.2" text-anchor="middle" fill="#222">O</text><text x="620" y="523" font-size="9.8" text-anchor="middle" fill="#222">Fe</text><text x="660.6" y="429.9" font-size="9.3" text-anchor="middle" fill="#f02020">x-z cross-</text><text x="661.5" y="441.6" font-size="9.3" text-anchor="middle" fill="#f02020">section</text><path d="M676.2 442.4L669.8 459.8" stroke="#f02020" stroke-width="1"/>
<path d="M595.5 419.1 L636 450.5 M595 546.7 L637.5 477" stroke="#f01010" stroke-width="1.3"/>
</svg>
</body></html>
